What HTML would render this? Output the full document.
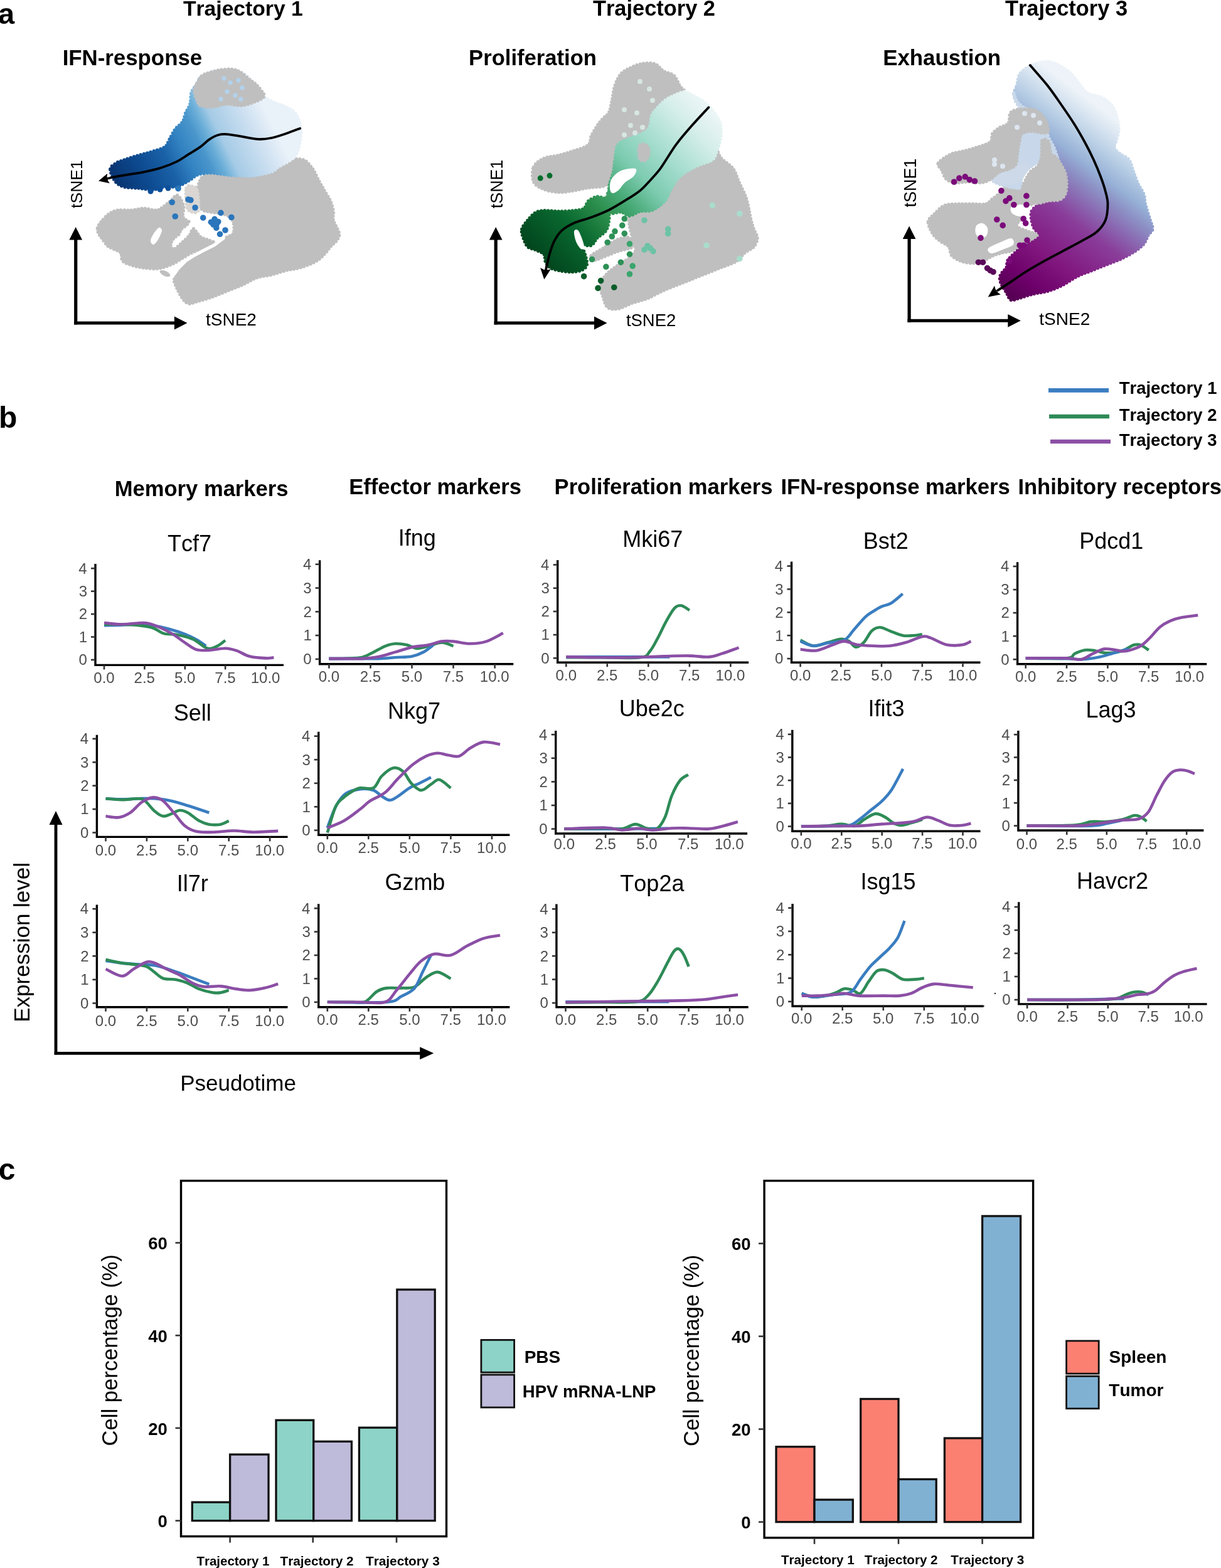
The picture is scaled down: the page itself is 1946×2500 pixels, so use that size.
<!DOCTYPE html>
<html><head><meta charset="utf-8"><title>Figure</title>
<style>
html,body{margin:0;padding:0;background:#fff;}
svg{display:block;font-family:"Liberation Sans",Arial,sans-serif;font-kerning:none;}
</style></head><body>
<svg width="1946" height="2500" viewBox="0 0 1946 2500">
<rect width="1946" height="2500" fill="#fff"/>
<text x="-3.08" y="38.10" font-size="47.00" font-weight="bold" fill="#000">a</text>
<text x="291.92" y="24.80" font-size="33.67" font-weight="bold" fill="#000">Trajectory 1</text>
<text x="944.91" y="24.80" font-size="34.41" font-weight="bold" fill="#000">Trajectory 2</text>
<text x="1601.91" y="24.80" font-size="34.44" font-weight="bold" fill="#000">Trajectory 3</text>
<text x="99.67" y="103.50" font-size="34.82" font-weight="bold" fill="#000">IFN-response</text>
<text x="747.08" y="104.10" font-size="34.61" font-weight="bold" fill="#000">Proliferation</text>
<text x="1407.17" y="104.10" font-size="34.88" font-weight="bold" fill="#000">Exhaustion</text>
<line x1="120.7" y1="517.6" x2="120.7" y2="381.4" stroke="#000" stroke-width="5.2"/>
<polygon points="110.35000000000001,382.4 131.05,382.4 120.7,361.9" fill="#000"/>
<line x1="118.10000000000001" y1="515" x2="278.9" y2="515" stroke="#000" stroke-width="5.1"/>
<polygon points="277.9,504.6 277.9,525.4 298.4,515" fill="#000"/>
<text x="0" y="0" transform="translate(131.00,331.90) rotate(-90)" font-size="26.50" font-weight="normal" fill="#000">tSNE1</text>
<text x="328.08" y="519.00" font-size="27.97" font-weight="normal" fill="#000">tSNE2</text>
<path d="M315.0,304.0 C315.3,299.0 316.3,294.0 318.0,290.0 C319.7,286.0 320.8,282.3 325.0,280.0 C329.2,277.7 337.7,276.7 343.0,276.0 C348.3,275.3 350.0,275.2 357.0,276.0 C364.0,276.8 376.3,280.2 385.0,281.0 C393.7,281.8 401.8,282.2 409.0,281.0 C416.2,279.8 422.2,276.7 428.0,274.0 C433.8,271.3 438.2,268.2 444.0,265.0 C449.8,261.8 456.3,256.7 463.0,255.0 C469.7,253.3 478.2,252.7 484.0,255.0 C489.8,257.3 494.0,263.5 498.0,269.0 C502.0,274.5 504.8,282.2 508.0,288.0 C511.2,293.8 513.9,298.6 517.0,304.0 C520.1,309.4 524.1,315.1 526.5,320.6 C528.9,326.1 530.4,331.9 531.2,337.0 C532.0,342.1 529.6,345.3 531.2,351.2 C532.8,357.1 539.8,366.9 540.6,372.4 C541.4,377.9 538.2,380.6 535.9,384.1 C533.5,387.6 529.6,390.0 526.5,393.5 C523.4,397.0 520.9,401.4 517.0,405.3 C513.1,409.2 509.3,413.5 503.0,417.0 C496.7,420.5 487.2,424.1 479.4,426.5 C471.5,428.9 463.7,429.2 455.9,431.2 C448.1,433.1 440.2,436.2 432.4,438.2 C424.5,440.2 416.6,440.2 408.8,443.0 C401.0,445.8 393.1,451.2 385.3,454.7 C377.5,458.2 369.7,461.0 361.8,464.1 C353.9,467.2 346.1,470.8 338.2,473.5 C330.3,476.2 321.0,478.9 314.7,480.6 C308.4,482.4 304.6,484.8 300.6,484.0 C296.7,483.2 294.1,480.1 291.0,476.0 C287.9,471.9 284.3,464.5 282.0,459.4 C279.7,454.3 277.3,449.4 277.0,445.3 C276.7,441.2 277.8,438.4 280.0,435.0 C282.2,431.6 286.7,428.3 290.0,425.0 C293.3,421.7 296.3,418.3 300.0,415.0 C303.7,411.7 307.8,407.8 312.0,405.0 C316.2,402.2 320.3,400.0 325.0,398.0 C329.7,396.0 335.5,395.2 340.0,393.0 C344.5,390.8 348.3,387.5 352.0,385.0 C355.7,382.5 358.7,380.2 362.0,378.0 C365.3,375.8 370.3,375.8 372.0,372.0 C373.7,368.2 373.2,359.5 372.0,355.0 C370.8,350.5 368.7,347.5 365.0,345.0 C361.3,342.5 355.0,341.2 350.0,340.0 C345.0,338.8 339.7,339.0 335.0,338.0 C330.3,337.0 325.2,337.0 322.0,334.0 C318.8,331.0 317.2,325.0 316.0,320.0 C314.8,315.0 314.7,309.0 315.0,304.0Z" fill="#bfbfbf" stroke="#bfbfbf" stroke-width="5.5" stroke-linecap="round" stroke-dasharray="0 5.5"/>
<path d="M155.6,363.4 C156.3,360.3 158.2,357.3 161.3,353.5 C164.4,349.7 169.5,343.9 174.0,340.8 C178.5,337.8 182.2,336.1 188.1,335.2 C194.0,334.3 202.5,335.7 209.3,335.2 C216.1,334.7 222.4,332.4 229.0,332.4 C235.6,332.4 243.9,335.4 248.8,335.2 C253.8,335.0 254.5,333.8 258.7,331.0 C262.9,328.2 270.4,321.5 274.2,318.2 C278.0,314.9 278.9,311.2 281.3,311.2 C283.7,311.2 286.5,314.9 288.4,318.2 C290.3,321.5 292.1,326.8 292.6,331.0 C293.1,335.2 291.0,340.6 291.2,343.6 C291.4,346.7 292.4,347.7 294.0,349.3 C295.6,350.9 300.5,351.9 301.0,353.5 C301.5,355.1 298.9,357.1 296.8,359.2 C294.7,361.3 290.3,363.8 288.4,366.2 C286.5,368.6 287.4,371.0 285.5,373.3 C283.6,375.6 279.2,377.2 277.0,380.0 C274.8,382.8 272.0,387.1 272.0,390.0 C272.0,392.9 273.8,398.0 277.0,397.3 C280.2,396.6 286.9,389.8 291.2,386.0 C295.4,382.2 299.7,378.2 302.5,374.7 C305.3,371.2 305.3,364.3 308.1,364.8 C310.9,365.3 315.2,374.4 319.4,377.5 C323.6,380.6 329.3,381.3 333.5,383.2 C337.7,385.1 344.8,386.9 344.8,388.8 C344.8,390.7 337.7,393.1 333.5,394.5 C329.3,395.9 324.1,395.9 319.4,397.3 C314.7,398.7 310.0,400.6 305.3,403.0 C300.6,405.4 295.9,408.6 291.2,411.4 C286.5,414.2 281.7,417.5 277.0,419.9 C272.3,422.2 267.7,424.1 263.0,425.5 C258.3,426.9 254.5,428.1 248.8,428.4 C243.1,428.6 235.6,427.9 229.0,427.0 C222.4,426.1 214.9,424.6 209.3,422.7 C203.7,420.8 198.0,419.0 195.2,415.7 C192.4,412.4 195.2,406.3 192.4,403.0 C189.6,399.7 181.7,397.8 178.2,395.9 C174.7,394.0 173.8,394.3 171.2,391.7 C168.6,389.1 165.1,383.7 162.7,380.4 C160.3,377.1 158.2,374.7 157.0,371.9 C155.8,369.1 154.9,366.5 155.6,363.4Z" fill="#bfbfbf" stroke="#bfbfbf" stroke-width="5.5" stroke-linecap="round" stroke-dasharray="0 5.5"/>
<path d="M253.0,363.0 C255.3,361.8 257.7,364.8 258.0,367.0 C258.3,369.2 256.3,373.0 255.0,376.0 C253.7,379.0 251.8,382.7 250.0,385.0 C248.2,387.3 245.7,390.2 244.0,390.0 C242.3,389.8 240.0,386.7 240.0,384.0 C240.0,381.3 241.8,377.5 244.0,374.0 C246.2,370.5 250.7,364.2 253.0,363.0Z" fill="#fff"/>
<path d="M297.0,300.0 C298.2,294.5 302.2,296.5 305.0,297.0 C307.8,297.5 312.2,296.7 314.0,303.0 C315.8,309.3 317.3,329.2 316.0,335.0 C314.7,340.8 309.0,338.8 306.0,338.0 C303.0,337.2 299.5,336.3 298.0,330.0 C296.5,323.7 295.8,305.5 297.0,300.0Z" fill="#d9d6d3" stroke="#d9d6d3" stroke-width="5.5" stroke-linecap="round" stroke-dasharray="0 5.5"/>
<ellipse cx="263" cy="436" rx="9" ry="4" transform="rotate(25 263 436)" fill="#bfbfbf"/>
<path d="M356,380 L341,391 L325,399 L310,407 L296,416 L284,428 L274,442" fill="none" stroke="#fff" stroke-width="5" stroke-linecap="round"/>
<defs><linearGradient id="g1" gradientUnits="userSpaceOnUse" x1="175" y1="290" x2="420" y2="170"><stop offset="0" stop-color="#08306b"/><stop offset="0.2" stop-color="#0d4a90"/><stop offset="0.36" stop-color="#1a62a8"/><stop offset="0.47" stop-color="#3383c2"/><stop offset="0.57" stop-color="#4a96cc"/><stop offset="0.63" stop-color="#6aaed8"/><stop offset="0.7" stop-color="#a5cbe6"/><stop offset="0.88" stop-color="#cde0f1"/><stop offset="1" stop-color="#e9f1f9"/></linearGradient></defs>
<path d="M175.9,269.4 C176.3,264.7 181.8,262.4 185.3,260.0 C188.8,257.6 192.7,256.9 197.0,255.3 C201.3,253.7 206.1,252.2 211.2,250.6 C216.3,249.0 222.1,247.5 227.6,245.9 C233.1,244.3 238.1,243.2 244.0,241.2 C249.9,239.2 258.7,237.2 263.0,234.1 C267.3,231.0 267.3,227.1 270.0,222.4 C272.7,217.7 275.9,210.6 279.4,205.9 C282.9,201.2 288.4,198.3 291.2,194.0 C293.9,189.7 293.9,184.7 295.9,180.0 C297.9,175.3 301.4,171.4 303.0,165.9 C304.6,160.4 303.4,152.5 305.3,147.0 C307.2,141.5 311.9,137.3 314.7,133.0 C317.4,128.7 315.9,124.7 321.8,121.2 C327.7,117.7 339.5,112.9 350.0,112.0 C360.5,111.1 375.2,111.7 385.0,116.0 C394.8,120.3 403.3,131.6 408.8,137.6 C414.3,143.6 414.3,147.9 418.2,151.8 C422.1,155.7 426.1,158.1 432.4,161.2 C438.7,164.3 449.6,167.5 455.9,170.6 C462.2,173.7 466.5,176.1 470.0,180.0 C473.5,183.9 475.4,188.5 477.0,194.0 C478.6,199.5 479.4,206.7 479.4,213.0 C479.4,219.3 478.2,226.3 477.0,231.8 C475.8,237.3 474.7,242.0 472.4,245.9 C470.1,249.8 467.7,252.0 463.0,255.3 C458.3,258.7 449.1,262.9 444.0,266.0 C438.9,269.1 439.1,271.7 432.4,274.0 C425.7,276.3 413.4,279.0 404.0,280.0 C394.6,281.0 384.1,280.3 375.9,280.0 C367.7,279.7 361.0,278.7 355.0,278.0 C349.0,277.3 344.4,276.3 340.0,276.0 C335.6,275.7 333.0,275.5 328.8,276.0 C324.6,276.5 319.4,276.8 314.7,278.8 C310.0,280.8 306.1,285.1 300.6,288.2 C295.1,291.3 288.1,296.0 281.8,297.6 C275.5,299.2 269.3,296.8 263.0,297.6 C256.7,298.4 251.1,302.0 244.0,302.4 C236.9,302.8 228.4,300.8 220.6,300.0 C212.8,299.2 203.3,299.6 197.0,297.6 C190.7,295.6 186.5,292.9 183.0,288.2 C179.5,283.5 175.5,274.1 175.9,269.4Z" fill="url(#g1)" stroke="url(#g1)" stroke-width="5.5" stroke-linecap="round" stroke-dasharray="0 5.5"/>
<path d="M321.8,121.2 C324.5,118.2 324.1,119.2 328.8,117.6 C333.5,116.0 342.9,113.0 350.0,111.8 C357.1,110.6 365.3,109.8 371.2,110.6 C377.1,111.4 380.6,113.6 385.3,116.5 C390.0,119.4 395.5,125.1 399.4,128.2 C403.3,131.3 405.7,132.2 408.8,135.3 C411.9,138.4 416.2,143.9 418.2,147.0 C420.2,150.1 422.2,151.7 420.6,154.1 C419.0,156.5 414.7,158.8 408.8,161.2 C402.9,163.5 393.1,167.4 385.3,168.2 C377.5,169.0 369.7,165.5 361.8,165.9 C353.9,166.3 345.3,170.2 338.2,170.6 C331.1,171.0 323.3,169.8 319.4,168.2 C315.5,166.6 316.3,164.7 314.7,161.2 C313.1,157.7 310.4,151.3 310.0,147.0 C309.6,142.7 310.4,139.6 312.4,135.3 C314.4,131.0 319.1,124.2 321.8,121.2Z" fill="#bfbfbf" stroke="#bfbfbf" stroke-width="5.5" stroke-linecap="round" stroke-dasharray="0 5.5"/>
<circle cx="357.0" cy="125.0" r="3.8" fill="#b3d1ea"/>
<circle cx="367.0" cy="132.0" r="3.8" fill="#b3d1ea"/>
<circle cx="380.0" cy="128.0" r="3.8" fill="#b3d1ea"/>
<circle cx="362.0" cy="146.0" r="3.8" fill="#b3d1ea"/>
<circle cx="375.0" cy="152.0" r="3.8" fill="#b3d1ea"/>
<circle cx="386.0" cy="140.0" r="3.8" fill="#b3d1ea"/>
<circle cx="352.0" cy="158.0" r="3.8" fill="#b3d1ea"/>
<circle cx="384.0" cy="158.0" r="3.8" fill="#b3d1ea"/>
<circle cx="284.0" cy="300.6" r="4.8" fill="#2a75bb"/>
<circle cx="274.2" cy="322.5" r="4.8" fill="#2a75bb"/>
<circle cx="303.9" cy="319.0" r="4.8" fill="#2a75bb"/>
<circle cx="311.0" cy="331.0" r="4.8" fill="#2a75bb"/>
<circle cx="279.2" cy="345.0" r="4.8" fill="#2a75bb"/>
<circle cx="323.7" cy="347.2" r="4.8" fill="#2a75bb"/>
<circle cx="351.9" cy="339.4" r="4.8" fill="#2a75bb"/>
<circle cx="368.8" cy="346.5" r="4.8" fill="#2a75bb"/>
<circle cx="336.4" cy="354.2" r="4.8" fill="#2a75bb"/>
<circle cx="342.0" cy="349.3" r="4.8" fill="#2a75bb"/>
<circle cx="347.7" cy="353.5" r="4.8" fill="#2a75bb"/>
<circle cx="344.8" cy="363.4" r="4.8" fill="#2a75bb"/>
<circle cx="359.0" cy="367.0" r="4.8" fill="#2a75bb"/>
<circle cx="350.5" cy="373.3" r="4.8" fill="#2a75bb"/>
<circle cx="300.0" cy="318.0" r="4.8" fill="#2a75bb"/>
<circle cx="345.0" cy="358.0" r="4.8" fill="#2a75bb"/>
<circle cx="340.0" cy="358.0" r="4.8" fill="#2a75bb"/>
<circle cx="255.0" cy="302.0" r="4.5" fill="#0d4f9a"/>
<circle cx="240.0" cy="305.0" r="4.5" fill="#0d4f9a"/>
<circle cx="268.0" cy="300.0" r="4.5" fill="#0d4f9a"/>
<path d="M478.2,204.7 C474.5,206.1 463.5,210.4 455.9,213.0 C448.3,215.6 439.8,218.5 432.4,220.0 C424.9,221.5 419.0,222.3 411.2,221.9 C403.4,221.5 393.5,218.9 385.3,217.6 C377.1,216.3 368.1,214.5 361.8,214.1 C355.5,213.7 352.3,213.9 347.6,215.3 C342.9,216.7 338.2,219.3 333.5,222.4 C328.8,225.5 324.9,230.2 319.4,234.1 C313.9,238.0 306.9,242.0 300.6,245.9 C294.3,249.8 288.9,254.1 281.8,257.6 C274.7,261.1 266.8,264.2 258.2,267.0 C249.6,269.8 239.4,272.1 230.0,274.1 C220.6,276.1 210.4,277.3 201.8,278.8 C193.2,280.3 183.8,281.9 178.2,283.0 C172.6,284.1 169.7,285.1 168.0,285.5" fill="none" stroke="#000" stroke-width="3.8" stroke-linecap="round"/>
<path d="M157.0,288.5 L171.1,276.7 Q169.0,285.5 174.9,292.3 Z" fill="#000"/>
<line x1="790.2" y1="517.6" x2="790.2" y2="381.4" stroke="#000" stroke-width="5.2"/>
<polygon points="779.85,382.4 800.5500000000001,382.4 790.2,361.9" fill="#000"/>
<line x1="787.6" y1="515" x2="948.0" y2="515" stroke="#000" stroke-width="5.1"/>
<polygon points="947.0,504.6 947.0,525.4 967.5,515" fill="#000"/>
<text x="0" y="0" transform="translate(800.60,332.21) rotate(-90)" font-size="26.86" font-weight="normal" fill="#000">tSNE1</text>
<text x="997.88" y="519.60" font-size="27.47" font-weight="normal" fill="#000">tSNE2</text>
<path d="M1003.5,344.1 C1006.2,340.2 1013.9,338.5 1020.0,337.0 C1026.1,335.5 1033.3,337.8 1040.0,335.0 C1046.7,332.2 1055.0,325.8 1060.0,320.0 C1065.0,314.2 1065.8,306.7 1070.0,300.0 C1074.2,293.3 1078.3,285.8 1085.0,280.0 C1091.7,274.2 1101.7,269.2 1110.0,265.0 C1118.3,260.8 1129.6,259.1 1135.0,255.0 C1140.4,250.9 1140.0,241.0 1142.4,240.6 C1144.8,240.2 1145.1,247.7 1149.4,252.4 C1153.7,257.1 1163.5,262.5 1168.2,268.8 C1172.9,275.1 1174.5,283.1 1177.6,290.0 C1180.7,296.9 1184.6,304.1 1187.0,310.0 C1189.4,315.9 1190.2,318.8 1191.8,325.3 C1193.4,331.8 1194.9,342.1 1196.5,348.8 C1198.1,355.5 1199.5,360.2 1201.2,365.3 C1203.0,370.4 1207.0,374.7 1207.0,379.4 C1207.0,384.1 1204.5,389.6 1201.2,393.5 C1197.9,397.4 1191.7,399.1 1187.0,403.0 C1182.3,406.9 1179.3,413.1 1173.0,417.0 C1166.7,420.9 1157.2,423.4 1149.4,426.5 C1141.6,429.6 1133.7,432.8 1125.9,435.9 C1118.1,439.0 1110.2,442.2 1102.4,445.3 C1094.6,448.4 1086.7,451.6 1078.8,454.7 C1070.9,457.8 1063.1,460.6 1055.3,464.1 C1047.5,467.6 1039.6,472.8 1031.8,475.9 C1023.9,479.0 1016.1,480.2 1008.2,483.0 C1000.4,485.8 991.4,491.2 984.7,492.4 C978.0,493.6 972.1,493.1 968.2,490.0 C964.3,486.9 963.2,479.4 961.2,473.5 C959.2,467.6 955.7,460.6 956.5,454.7 C957.3,448.8 962.0,442.9 965.9,438.2 C969.8,433.5 975.3,430.0 980.0,426.5 C984.7,423.0 989.4,420.1 994.1,417.0 C998.8,413.9 1005.1,411.1 1008.2,407.6 C1011.4,404.1 1013.0,400.6 1013.0,395.9 C1013.0,391.2 1009.8,385.3 1008.2,379.4 C1006.6,373.5 1004.3,366.5 1003.5,360.6 C1002.7,354.7 1000.8,348.0 1003.5,344.1Z" fill="#bfbfbf" stroke="#bfbfbf" stroke-width="5.5" stroke-linecap="round" stroke-dasharray="0 5.5"/>
<path d="M942.4,407.6 C944.8,404.5 954.2,400.2 961.2,395.9 C968.2,391.6 977.7,384.6 984.7,381.8 C991.8,379.1 999.6,377.4 1003.5,379.4 C1007.4,381.3 1011.3,390.0 1008.2,393.5 C1005.1,397.0 992.5,397.9 984.7,400.6 C976.9,403.4 967.5,407.6 961.2,410.0 C954.9,412.4 950.1,415.1 947.0,414.7 C943.9,414.3 940.0,410.7 942.4,407.6Z" fill="#bfbfbf" stroke="#bfbfbf" stroke-width="5.5" stroke-linecap="round" stroke-dasharray="0 5.5"/>
<path d="M850.6,266.5 C853.3,260.2 860.3,255.6 867.0,252.4 C873.7,249.2 882.8,249.6 890.6,247.6 C898.4,245.6 906.2,243.3 914.0,240.6 C921.8,237.9 932.9,235.1 937.6,231.2 C942.3,227.3 940.0,222.1 942.4,217.0 C944.8,211.9 948.7,205.3 951.8,200.6 C954.9,195.9 958.1,192.3 961.2,188.8 C964.3,185.3 968.2,184.1 970.6,179.4 C973.0,174.7 973.7,167.7 975.3,160.6 C976.9,153.5 977.6,144.1 980.0,137.0 C982.4,129.9 985.5,122.9 989.4,118.2 C993.3,113.5 998.0,111.5 1003.5,108.8 C1009.0,106.1 1015.7,103.0 1022.4,101.8 C1029.1,100.6 1037.6,99.8 1043.5,101.8 C1049.4,103.8 1052.5,110.4 1057.6,113.5 C1062.7,116.6 1069.7,116.7 1074.0,120.6 C1078.3,124.5 1080.7,132.7 1083.5,137.0 C1086.3,141.3 1092.0,144.0 1090.6,146.5 C1089.2,149.0 1080.1,149.8 1075.0,152.0 C1069.9,154.2 1065.0,156.2 1060.0,160.0 C1055.0,163.8 1048.5,171.0 1045.0,175.0 C1041.5,179.0 1041.0,178.6 1038.8,184.0 C1036.6,189.4 1038.3,201.3 1031.8,207.6 C1025.3,213.9 1007.9,218.1 1000.0,222.0 C992.1,225.9 988.0,225.8 984.7,231.2 C981.4,236.6 981.2,247.6 980.0,254.7 C978.8,261.8 979.2,267.6 977.6,273.5 C976.0,279.4 973.3,286.1 970.6,290.0 C967.9,293.9 966.7,295.4 961.2,297.0 C955.7,298.6 945.5,298.2 937.6,299.4 C929.7,300.6 921.8,302.8 914.0,304.0 C906.2,305.2 898.4,306.9 890.6,306.5 C882.8,306.1 873.7,304.6 867.0,301.8 C860.3,299.1 853.3,295.9 850.6,290.0 C847.9,284.1 847.9,272.8 850.6,266.5Z" fill="#bfbfbf" stroke="#bfbfbf" stroke-width="5.5" stroke-linecap="round" stroke-dasharray="0 5.5"/>
<defs><linearGradient id="g2" gradientUnits="userSpaceOnUse" x1="862" y1="430" x2="1135" y2="165"><stop offset="0" stop-color="#00401b"/><stop offset="0.23" stop-color="#0a6a30"/><stop offset="0.35" stop-color="#2a8c4a"/><stop offset="0.45" stop-color="#45a873"/><stop offset="0.57" stop-color="#7ccbb0"/><stop offset="0.72" stop-color="#a8ded0"/><stop offset="0.87" stop-color="#d5eee9"/><stop offset="1" stop-color="#f0f7f9"/></linearGradient></defs>
<path d="M1090.6,146.5 C1095.2,146.4 1096.5,148.1 1102.4,151.2 C1108.3,154.3 1118.9,159.0 1125.9,165.3 C1133.0,171.6 1140.8,181.8 1144.7,188.8 C1148.6,195.9 1149.0,201.3 1149.4,207.6 C1149.8,213.9 1148.2,221.0 1147.0,226.5 C1145.8,232.0 1144.4,235.8 1142.4,240.6 C1140.4,245.3 1140.4,250.9 1135.0,255.0 C1129.6,259.1 1118.3,260.8 1110.0,265.0 C1101.7,269.2 1091.7,274.2 1085.0,280.0 C1078.3,285.8 1074.2,293.3 1070.0,300.0 C1065.8,306.7 1065.0,314.2 1060.0,320.0 C1055.0,325.8 1046.7,332.2 1040.0,335.0 C1033.3,337.8 1026.1,335.5 1020.0,337.0 C1013.9,338.5 1008.5,343.8 1003.5,344.0 C998.5,344.2 995.2,339.0 990.0,338.0 C984.8,337.0 975.2,343.6 972.0,338.0 C968.8,332.4 970.6,311.8 970.6,304.1 C970.6,296.4 970.8,297.1 972.0,292.0 C973.2,286.9 976.3,279.7 977.6,273.5 C978.9,267.3 978.8,261.8 980.0,254.7 C981.2,247.6 981.4,236.6 984.7,231.2 C988.0,225.8 992.1,225.9 1000.0,222.0 C1007.9,218.1 1025.3,213.9 1031.8,207.6 C1038.3,201.3 1036.6,189.4 1038.8,184.0 C1041.0,178.6 1041.5,179.0 1045.0,175.0 C1048.5,171.0 1055.0,163.8 1060.0,160.0 C1065.0,156.2 1069.9,154.2 1075.0,152.0 C1080.1,149.8 1086.0,146.6 1090.6,146.5Z" fill="url(#g2)" stroke="url(#g2)" stroke-width="5.5" stroke-linecap="round" stroke-dasharray="0 5.5"/>
<path d="M1020.0,231.0 C1022.2,227.8 1029.7,230.5 1032.0,233.0 C1034.3,235.5 1034.7,242.2 1034.0,246.0 C1033.3,249.8 1030.5,255.0 1028.0,256.0 C1025.5,257.0 1020.3,256.2 1019.0,252.0 C1017.7,247.8 1017.8,234.2 1020.0,231.0Z" fill="#bfbfbf" stroke="#bfbfbf" stroke-width="5.5" stroke-linecap="round" stroke-dasharray="0 5.5"/>
<path d="M831.8,365.3 C833.0,360.6 837.7,355.5 841.2,351.2 C844.7,346.9 848.7,341.9 853.0,339.4 C857.3,336.8 860.7,336.3 867.0,335.9 C873.3,335.5 882.8,337.0 890.6,337.0 C898.4,337.0 907.3,336.7 914.0,335.9 C920.7,335.1 926.7,334.9 930.6,332.4 C934.5,329.8 934.1,323.8 937.6,320.6 C941.1,317.5 947.1,314.3 951.8,313.5 C956.5,312.7 962.8,317.5 965.9,315.9 C969.0,314.3 967.5,307.6 970.6,304.1 C973.7,300.6 980.0,297.1 984.7,294.7 C989.4,292.3 994.9,289.1 998.8,290.0 C1002.7,290.9 1007.8,295.8 1008.0,300.0 C1008.2,304.2 1003.8,310.8 1000.0,315.0 C996.2,319.2 989.7,321.3 985.0,325.0 C980.3,328.7 974.4,332.6 972.0,337.0 C969.6,341.4 971.6,346.1 970.6,351.2 C969.6,356.3 969.0,362.9 965.9,367.6 C962.8,372.3 955.7,375.5 951.8,379.4 C947.9,383.3 946.3,389.6 942.4,391.2 C938.5,392.8 931.7,390.8 928.2,388.8 C924.7,386.8 922.9,382.5 921.2,379.4 C919.5,376.3 918.9,370.2 918.0,370.0 C917.1,369.8 914.8,373.8 916.0,378.0 C917.2,382.2 922.6,391.2 925.0,395.0 C927.4,398.8 928.9,396.1 930.6,400.6 C932.3,405.1 936.1,416.7 935.3,421.8 C934.5,426.9 930.2,429.2 925.9,431.2 C921.6,433.1 915.3,433.5 909.4,433.5 C903.5,433.5 896.1,432.4 890.6,431.2 C885.1,430.0 880.0,428.9 876.5,426.5 C873.0,424.1 871.0,420.5 869.4,417.0 C867.8,413.5 869.7,408.4 867.0,405.3 C864.3,402.2 857.3,400.2 853.0,398.2 C848.7,396.2 844.4,396.6 841.2,393.5 C838.1,390.4 835.7,384.1 834.1,379.4 C832.5,374.7 830.6,370.0 831.8,365.3Z" fill="url(#g2)" stroke="url(#g2)" stroke-width="5.5" stroke-linecap="round" stroke-dasharray="0 5.5"/>
<path d="M915.0,369.0 C915.5,366.0 919.0,365.3 921.0,367.0 C923.0,368.7 925.3,374.5 927.0,379.0 C928.7,383.5 931.2,391.0 931.0,394.0 C930.8,397.0 928.2,398.5 926.0,397.0 C923.8,395.5 919.8,389.7 918.0,385.0 C916.2,380.3 914.5,372.0 915.0,369.0Z" fill="#fff"/>
<path d="M972.0,300.0 C971.8,296.2 972.0,289.7 975.0,285.0 C978.0,280.3 983.7,274.7 990.0,272.0 C996.3,269.3 1009.7,267.5 1013.0,269.0 C1016.3,270.5 1012.8,277.3 1010.0,281.0 C1007.2,284.7 1000.0,287.3 996.0,291.0 C992.0,294.7 989.3,300.2 986.0,303.0 C982.7,305.8 978.3,308.5 976.0,308.0 C973.7,307.5 972.2,303.8 972.0,300.0Z" fill="#fff"/>
<circle cx="861.2" cy="284.1" r="4.5" fill="#006d2c"/>
<circle cx="876.0" cy="280.1" r="4.5" fill="#006d2c"/>
<circle cx="995.3" cy="348.8" r="4.8" fill="#2e9157"/>
<circle cx="991.8" cy="359.4" r="4.8" fill="#2e9157"/>
<circle cx="980.0" cy="368.8" r="4.8" fill="#2e9157"/>
<circle cx="995.3" cy="372.4" r="4.8" fill="#2e9157"/>
<circle cx="975.3" cy="377.0" r="4.8" fill="#2e9157"/>
<circle cx="968.2" cy="386.5" r="4.8" fill="#2e9157"/>
<circle cx="943.5" cy="413.5" r="4.8" fill="#2e9157"/>
<circle cx="965.9" cy="425.3" r="4.8" fill="#2e9157"/>
<circle cx="989.4" cy="418.2" r="4.8" fill="#2e9157"/>
<circle cx="1003.5" cy="405.3" r="4.8" fill="#2e9157"/>
<circle cx="930.6" cy="440.6" r="4.8" fill="#0b5d2a"/>
<circle cx="957.6" cy="447.6" r="4.8" fill="#0b5d2a"/>
<circle cx="953.0" cy="459.4" r="4.8" fill="#0b5d2a"/>
<circle cx="978.8" cy="458.2" r="4.8" fill="#0b5d2a"/>
<circle cx="1003.5" cy="388.8" r="4.8" fill="#3aa56c"/>
<circle cx="1008.2" cy="424.1" r="4.8" fill="#3aa56c"/>
<circle cx="1003.5" cy="437.0" r="4.8" fill="#3aa56c"/>
<circle cx="1027.0" cy="351.2" r="4.8" fill="#6cc3a5"/>
<circle cx="1064.7" cy="365.3" r="4.8" fill="#6cc3a5"/>
<circle cx="1064.7" cy="372.4" r="4.8" fill="#6cc3a5"/>
<circle cx="1027.0" cy="398.2" r="4.8" fill="#6cc3a5"/>
<circle cx="1036.5" cy="395.9" r="4.8" fill="#6cc3a5"/>
<circle cx="1041.0" cy="400.6" r="4.8" fill="#6cc3a5"/>
<circle cx="1032.0" cy="392.0" r="4.8" fill="#6cc3a5"/>
<circle cx="1135.3" cy="327.6" r="4.8" fill="#a9dccc"/>
<circle cx="1125.9" cy="391.2" r="4.8" fill="#a9dccc"/>
<circle cx="1178.8" cy="412.4" r="4.8" fill="#a9dccc"/>
<circle cx="1178.8" cy="340.6" r="4.8" fill="#a9dccc"/>
<circle cx="1020.0" cy="130.0" r="4" fill="#d7e6e2"/>
<circle cx="1035.0" cy="142.0" r="4" fill="#d7e6e2"/>
<circle cx="1040.0" cy="160.0" r="4" fill="#d7e6e2"/>
<circle cx="995.0" cy="175.0" r="4" fill="#d7e6e2"/>
<circle cx="1015.0" cy="180.0" r="4" fill="#d7e6e2"/>
<circle cx="1005.0" cy="200.0" r="4" fill="#d7e6e2"/>
<circle cx="1024.0" cy="203.0" r="4" fill="#d7e6e2"/>
<circle cx="1012.0" cy="212.0" r="4" fill="#d7e6e2"/>
<circle cx="995.0" cy="215.0" r="4" fill="#d7e6e2"/>
<path d="M1129.4,171.2 C1124.9,176.1 1110.8,191.0 1102.4,200.6 C1094.0,210.2 1085.1,220.6 1078.8,228.8 C1072.5,237.0 1069.4,242.9 1064.7,250.0 C1060.0,257.1 1055.7,264.5 1050.6,271.2 C1045.5,277.9 1039.1,284.5 1034.0,290.0 C1028.9,295.5 1025.9,299.3 1020.0,304.0 C1014.1,308.7 1007.0,313.1 998.8,318.2 C990.6,323.3 980.0,330.0 970.6,334.7 C961.2,339.4 951.8,343.0 942.4,346.5 C933.0,350.0 921.9,352.4 914.0,355.9 C906.1,359.4 900.4,362.9 895.3,367.6 C890.2,372.3 886.6,378.2 883.5,384.1 C880.4,390.0 878.5,396.7 876.5,403.0 C874.5,409.3 872.9,417.3 871.8,421.8 C870.7,426.3 870.3,428.6 870.0,430.0" fill="none" stroke="#000" stroke-width="3.8" stroke-linecap="round"/>
<path d="M867.3,445.5 L861.1,426.9 Q869.0,432.4 877.9,429.1 Z" fill="#000"/>
<line x1="1449.1" y1="513.9" x2="1449.1" y2="380.0" stroke="#000" stroke-width="5.2"/>
<polygon points="1438.75,381.0 1459.4499999999998,381.0 1449.1,360.5" fill="#000"/>
<line x1="1446.5" y1="511.3" x2="1607.3" y2="511.3" stroke="#000" stroke-width="5.1"/>
<polygon points="1606.3,500.90000000000003 1606.3,521.7 1626.8,511.3" fill="#000"/>
<text x="0" y="0" transform="translate(1459.70,330.41) rotate(-90)" font-size="26.89" font-weight="normal" fill="#000">tSNE1</text>
<text x="1656.17" y="518.20" font-size="28.11" font-weight="normal" fill="#000">tSNE2</text>
<defs><linearGradient id="g3" gradientUnits="userSpaceOnUse" x1="1590" y1="475" x2="1794" y2="203"><stop offset="0" stop-color="#4d004b"/><stop offset="0.15" stop-color="#6e016b"/><stop offset="0.3" stop-color="#81177f"/><stop offset="0.5" stop-color="#8a3d9a"/><stop offset="0.6" stop-color="#8a6ab2"/><stop offset="0.68" stop-color="#8c8fc4"/><stop offset="0.75" stop-color="#96b0d6"/><stop offset="0.85" stop-color="#b9cfe5"/><stop offset="0.93" stop-color="#d6e3f0"/><stop offset="1" stop-color="#edf3f8"/></linearGradient></defs>
<path d="M1479.4,353.5 C1479.8,348.4 1484.5,346.1 1488.8,341.8 C1493.1,337.5 1498.6,330.4 1505.3,327.6 C1512.0,324.9 1520.9,325.7 1528.8,325.3 C1536.7,324.9 1545.3,325.3 1552.4,325.3 C1559.5,325.3 1566.5,326.5 1571.2,325.3 C1575.9,324.1 1577.1,320.9 1580.6,318.2 C1584.1,315.4 1588.9,311.9 1592.4,308.8 C1595.9,305.7 1597.9,302.5 1601.8,299.4 C1605.7,296.3 1610.4,291.2 1615.9,290.0 C1621.4,288.8 1629.2,290.0 1634.7,292.4 C1640.2,294.8 1646.5,299.8 1648.8,304.1 C1651.1,308.4 1650.0,313.9 1648.8,318.2 C1647.6,322.5 1644.1,326.5 1641.8,330.0 C1639.5,333.5 1637.5,335.9 1634.7,339.4 C1632.0,342.9 1627.7,347.7 1625.3,351.2 C1622.9,354.7 1619.0,357.9 1620.6,360.6 C1622.2,363.3 1630.0,365.6 1634.7,367.6 C1639.4,369.6 1644.9,370.4 1648.8,372.4 C1652.7,374.4 1658.2,376.7 1658.2,379.4 C1658.2,382.1 1652.7,386.4 1648.8,388.8 C1644.9,391.2 1639.4,392.3 1634.7,393.5 C1630.0,394.7 1624.5,394.7 1620.6,395.9 C1616.7,397.1 1615.1,399.4 1611.2,400.6 C1607.3,401.8 1601.7,401.8 1597.0,403.0 C1592.3,404.2 1587.7,405.7 1583.0,407.6 C1578.3,409.6 1573.9,412.7 1568.8,414.7 C1563.7,416.7 1558.3,419.0 1552.4,419.4 C1546.5,419.8 1539.4,419.0 1533.5,417.0 C1527.6,415.0 1520.5,411.5 1517.0,407.6 C1513.5,403.7 1515.5,397.4 1512.4,393.5 C1509.3,389.6 1502.5,387.6 1498.2,384.1 C1493.9,380.6 1489.6,377.5 1486.5,372.4 C1483.4,367.3 1479.0,358.6 1479.4,353.5Z" fill="#bfbfbf" stroke="#bfbfbf" stroke-width="5.5" stroke-linecap="round" stroke-dasharray="0 5.5"/>
<path d="M1556.0,360.0 C1557.8,357.3 1563.0,355.3 1566.0,356.0 C1569.0,356.7 1573.0,360.7 1574.0,364.0 C1575.0,367.3 1574.0,373.3 1572.0,376.0 C1570.0,378.7 1564.8,380.7 1562.0,380.0 C1559.2,379.3 1556.0,375.3 1555.0,372.0 C1554.0,368.7 1554.2,362.7 1556.0,360.0Z" fill="#fff"/>
<path d="M1612.0,330.0 C1614.8,327.7 1624.5,326.0 1630.0,326.0 C1635.5,326.0 1643.3,327.3 1645.0,330.0 C1646.7,332.7 1643.3,339.5 1640.0,342.0 C1636.7,344.5 1629.5,345.3 1625.0,345.0 C1620.5,344.7 1615.2,342.5 1613.0,340.0 C1610.8,337.5 1609.2,332.3 1612.0,330.0Z" fill="#fff"/>
<path d="M1575.0,396.0 C1577.5,393.0 1588.8,388.7 1595.0,386.0 C1601.2,383.3 1608.7,379.3 1612.0,380.0 C1615.3,380.7 1617.3,387.0 1615.0,390.0 C1612.7,393.0 1603.8,395.7 1598.0,398.0 C1592.2,400.3 1583.8,404.3 1580.0,404.0 C1576.2,403.7 1572.5,399.0 1575.0,396.0Z" fill="#fff"/>
<path d="M1620.6,137.0 C1622.2,131.9 1622.2,123.3 1625.3,118.2 C1628.4,113.1 1633.9,109.6 1639.4,106.5 C1644.9,103.4 1651.9,100.6 1658.2,99.4 C1664.5,98.2 1670.7,97.8 1677.0,99.4 C1683.3,101.0 1690.8,105.7 1695.9,108.8 C1701.0,111.9 1703.7,114.3 1707.6,118.2 C1711.5,122.1 1715.1,127.3 1719.4,132.4 C1723.7,137.5 1727.2,144.9 1733.5,148.8 C1739.8,152.7 1750.3,152.4 1757.0,155.9 C1763.7,159.4 1769.6,164.5 1773.5,170.0 C1777.4,175.5 1779.0,182.5 1780.6,188.8 C1782.2,195.1 1783.4,201.3 1783.0,207.6 C1782.6,213.9 1779.4,221.8 1778.2,226.5 C1777.0,231.2 1774.7,232.8 1775.9,235.9 C1777.1,239.0 1781.4,242.2 1785.3,245.3 C1789.2,248.4 1795.9,250.0 1799.4,254.7 C1802.9,259.4 1804.2,267.2 1806.5,273.5 C1808.8,279.8 1810.8,286.3 1813.5,292.4 C1816.2,298.5 1821.0,304.5 1823.0,310.0 C1825.0,315.5 1823.7,318.8 1825.3,325.3 C1826.9,331.8 1830.5,342.1 1832.4,348.8 C1834.4,355.5 1837.4,361.0 1837.0,365.3 C1836.6,369.6 1832.3,370.8 1830.0,374.7 C1827.7,378.6 1826.5,384.5 1823.0,388.8 C1819.5,393.1 1814.7,396.7 1808.8,400.6 C1802.9,404.5 1795.1,408.9 1787.6,412.4 C1780.1,415.9 1771.8,418.7 1764.0,421.8 C1756.2,424.9 1748.4,428.1 1740.6,431.2 C1732.8,434.3 1724.8,436.7 1717.0,440.6 C1709.2,444.5 1701.3,450.8 1693.5,454.7 C1685.7,458.6 1677.8,461.8 1670.0,464.1 C1662.2,466.5 1654.3,466.8 1646.5,468.8 C1638.7,470.8 1628.9,474.3 1623.0,475.9 C1617.1,477.5 1614.4,479.8 1611.2,478.2 C1608.0,476.6 1606.8,471.2 1604.0,466.5 C1601.2,461.8 1596.2,454.7 1594.7,450.0 C1593.2,445.3 1593.2,442.1 1594.7,438.2 C1596.2,434.3 1602.0,430.4 1604.0,426.5 C1606.0,422.6 1603.7,419.0 1606.5,414.7 C1609.3,410.4 1615.9,404.5 1620.6,400.6 C1625.3,396.7 1630.0,393.9 1634.7,391.2 C1639.4,388.4 1644.9,386.9 1648.8,384.1 C1652.7,381.4 1658.2,377.8 1658.2,374.7 C1658.2,371.6 1651.2,369.2 1648.8,365.3 C1646.4,361.4 1644.9,355.9 1644.1,351.2 C1643.3,346.5 1642.5,340.9 1644.1,337.0 C1645.7,333.1 1649.2,330.7 1653.5,327.6 C1657.8,324.5 1665.3,322.5 1670.0,318.2 C1674.7,313.9 1678.5,308.2 1681.8,301.8 C1685.1,295.4 1690.0,290.2 1690.0,280.0 C1690.0,269.8 1684.7,250.3 1681.8,240.6 C1678.9,230.9 1674.8,227.3 1672.4,221.8 C1670.0,216.3 1668.8,212.7 1667.6,207.6 C1666.4,202.5 1668.4,195.9 1665.3,191.2 C1662.2,186.5 1654.7,182.9 1648.8,179.4 C1642.9,175.9 1634.7,173.1 1630.0,170.0 C1625.3,166.9 1622.9,164.1 1620.6,160.6 C1618.2,157.1 1615.9,152.7 1615.9,148.8 C1615.9,144.9 1619.0,142.1 1620.6,137.0Z" fill="url(#g3)" stroke="url(#g3)" stroke-width="5.5" stroke-linecap="round" stroke-dasharray="0 5.5"/>
<path d="M1615.9,148.8 C1616.3,148.9 1618.2,157.1 1620.6,160.6 C1622.9,164.1 1625.3,166.9 1630.0,170.0 C1634.7,173.1 1642.9,175.9 1648.8,179.4 C1654.7,182.9 1662.2,186.5 1665.3,191.2 C1668.4,195.9 1666.4,202.5 1667.6,207.6 C1668.8,212.7 1670.0,216.3 1672.4,221.8 C1674.8,227.3 1678.5,230.9 1681.8,240.6 C1685.1,250.3 1691.8,270.1 1692.0,280.0 C1692.2,289.9 1688.3,296.7 1683.0,300.0 C1677.7,303.3 1667.2,299.7 1660.0,300.0 C1652.8,300.3 1646.7,302.0 1640.0,302.0 C1633.3,302.0 1626.7,301.0 1620.0,300.0 C1613.3,299.0 1605.8,298.0 1600.0,296.0 C1594.2,294.0 1585.0,292.3 1585.0,288.0 C1585.0,283.7 1594.5,276.3 1600.0,270.0 C1605.5,263.7 1614.3,259.2 1618.0,250.0 C1621.7,240.8 1620.0,225.0 1622.0,215.0 C1624.0,205.0 1629.5,197.2 1630.0,190.0 C1630.5,182.8 1627.0,177.0 1625.0,172.0 C1623.0,167.0 1619.5,163.9 1618.0,160.0 C1616.5,156.1 1615.5,148.7 1615.9,148.8Z" fill="#c8d8ea" stroke="#c8d8ea" stroke-width="5.5" stroke-linecap="round" stroke-dasharray="0 5.5"/>
<path d="M1579.0,285.0 C1578.7,281.5 1587.8,274.8 1593.0,272.0 C1598.2,269.2 1604.2,269.5 1610.0,268.0 C1615.8,266.5 1623.0,263.0 1628.0,263.0 C1633.0,263.0 1640.0,264.3 1640.0,268.0 C1640.0,271.7 1632.7,281.0 1628.0,285.0 C1623.3,289.0 1617.5,290.7 1612.0,292.0 C1606.5,293.3 1600.5,294.2 1595.0,293.0 C1589.5,291.8 1579.3,288.5 1579.0,285.0Z" fill="#cdd9e8" stroke="#cdd9e8" stroke-width="5.5" stroke-linecap="round" stroke-dasharray="0 5.5"/>
<path d="M1630.0,287.0 C1631.2,282.8 1635.8,275.2 1640.0,271.0 C1644.2,266.8 1653.0,261.2 1655.0,262.0 C1657.0,262.8 1654.2,271.2 1652.0,276.0 C1649.8,280.8 1645.2,287.7 1642.0,291.0 C1638.8,294.3 1635.0,296.7 1633.0,296.0 C1631.0,295.3 1628.8,291.2 1630.0,287.0Z" fill="#fff"/>
<path d="M1495.5,260.1 C1497.8,255.9 1509.2,249.1 1515.3,246.0 C1521.4,242.9 1525.2,243.7 1532.2,241.8 C1539.2,239.9 1549.8,237.3 1557.6,234.7 C1565.4,232.1 1574.8,229.7 1578.8,226.2 C1582.8,222.7 1579.3,217.3 1581.7,213.5 C1584.1,209.7 1588.8,206.4 1593.0,203.6 C1597.2,200.8 1604.2,200.4 1607.0,196.6 C1609.8,192.8 1608.1,184.5 1610.0,181.0 C1611.9,177.5 1614.2,176.6 1618.4,175.4 C1622.6,174.2 1630.1,174.0 1635.3,174.0 C1640.5,174.0 1645.2,173.8 1649.4,175.4 C1653.6,177.1 1657.6,180.6 1660.7,183.9 C1663.8,187.2 1666.2,191.0 1667.8,195.2 C1669.4,199.4 1671.3,206.5 1670.6,209.3 C1669.9,212.1 1668.2,212.1 1663.5,212.1 C1658.8,212.1 1648.3,209.1 1642.4,209.3 C1636.5,209.5 1631.0,211.2 1628.2,213.5 C1625.4,215.8 1626.3,219.4 1625.4,223.4 C1624.5,227.4 1623.3,233.3 1622.6,237.5 C1621.9,241.7 1621.9,244.6 1621.2,248.8 C1620.5,253.1 1620.8,259.5 1618.4,263.0 C1616.0,266.5 1611.2,268.1 1607.0,270.0 C1602.8,271.9 1597.7,271.6 1593.0,274.2 C1588.3,276.8 1583.5,282.7 1578.8,285.5 C1574.1,288.3 1570.6,290.5 1564.7,291.2 C1558.8,291.9 1550.5,289.8 1543.5,289.8 C1536.5,289.8 1528.3,291.9 1522.4,291.2 C1516.5,290.5 1511.7,288.8 1508.2,285.5 C1504.7,282.2 1503.3,275.6 1501.2,271.4 C1499.1,267.2 1493.2,264.3 1495.5,260.1Z" fill="#bfbfbf" stroke="#bfbfbf" stroke-width="5.5" stroke-linecap="round" stroke-dasharray="0 5.5"/>
<path d="M1661.0,224.0 C1662.8,220.3 1668.7,222.5 1671.0,226.0 C1673.3,229.5 1672.8,240.7 1675.0,245.0 C1677.2,249.3 1680.2,246.7 1684.0,252.0 C1687.8,257.3 1695.5,268.2 1698.0,277.0 C1700.5,285.8 1700.3,298.2 1699.0,305.0 C1697.7,311.8 1694.5,315.5 1690.0,318.0 C1685.5,320.5 1677.8,319.0 1672.0,320.0 C1666.2,321.0 1660.3,323.7 1655.0,324.0 C1649.7,324.3 1644.5,324.0 1640.0,322.0 C1635.5,320.0 1629.7,316.0 1628.0,312.0 C1626.3,308.0 1628.7,302.7 1630.0,298.0 C1631.3,293.3 1633.8,288.2 1636.0,284.0 C1638.2,279.8 1639.8,276.3 1643.0,273.0 C1646.2,269.7 1652.2,268.2 1655.0,264.0 C1657.8,259.8 1659.0,254.7 1660.0,248.0 C1661.0,241.3 1659.2,227.7 1661.0,224.0Z" fill="#bfbfbf" stroke="#bfbfbf" stroke-width="5.5" stroke-linecap="round" stroke-dasharray="0 5.5"/>
<circle cx="1633.0" cy="181.0" r="4" fill="#dde6f0"/>
<circle cx="1647.0" cy="184.0" r="4" fill="#dde6f0"/>
<circle cx="1621.0" cy="203.0" r="4" fill="#dde6f0"/>
<circle cx="1657.0" cy="196.0" r="4" fill="#dde6f0"/>
<circle cx="1585.0" cy="255.0" r="4" fill="#dde6f0"/>
<circle cx="1585.0" cy="262.0" r="4" fill="#dde6f0"/>
<circle cx="1598.0" cy="265.0" r="4" fill="#dde6f0"/>
<circle cx="1595.9" cy="304.1" r="4.8" fill="#7b0b7a"/>
<circle cx="1603.0" cy="320.6" r="4.8" fill="#7b0b7a"/>
<circle cx="1608.8" cy="315.9" r="4.8" fill="#7b0b7a"/>
<circle cx="1615.9" cy="326.5" r="4.8" fill="#7b0b7a"/>
<circle cx="1635.9" cy="312.4" r="4.8" fill="#7b0b7a"/>
<circle cx="1635.9" cy="326.5" r="4.8" fill="#7b0b7a"/>
<circle cx="1588.8" cy="350.0" r="4.8" fill="#7b0b7a"/>
<circle cx="1598.2" cy="359.4" r="4.8" fill="#7b0b7a"/>
<circle cx="1631.2" cy="348.8" r="4.8" fill="#7b0b7a"/>
<circle cx="1634.7" cy="355.9" r="4.8" fill="#7b0b7a"/>
<circle cx="1563.0" cy="379.4" r="4.8" fill="#7b0b7a"/>
<circle cx="1637.0" cy="383.0" r="4.8" fill="#7b0b7a"/>
<circle cx="1625.3" cy="391.2" r="4.8" fill="#7b0b7a"/>
<circle cx="1631.2" cy="391.2" r="4.8" fill="#7b0b7a"/>
<circle cx="1608.8" cy="415.9" r="4.8" fill="#7b0b7a"/>
<circle cx="1520.6" cy="290.0" r="4.8" fill="#7b0b7a"/>
<circle cx="1528.8" cy="284.1" r="4.8" fill="#7b0b7a"/>
<circle cx="1538.2" cy="281.8" r="4.8" fill="#7b0b7a"/>
<circle cx="1545.3" cy="286.5" r="4.8" fill="#7b0b7a"/>
<circle cx="1553.5" cy="288.8" r="4.8" fill="#7b0b7a"/>
<circle cx="1559.4" cy="418.2" r="4.8" fill="#5a0859"/>
<circle cx="1566.5" cy="418.2" r="4.8" fill="#5a0859"/>
<circle cx="1573.5" cy="427.6" r="4.8" fill="#5a0859"/>
<circle cx="1578.2" cy="431.2" r="4.8" fill="#5a0859"/>
<circle cx="1583.0" cy="433.5" r="4.8" fill="#5a0859"/>
<path d="M1641.8,104.1 C1646.5,109.6 1661.4,126.0 1670.0,137.0 C1678.6,148.0 1686.4,159.8 1693.5,170.0 C1700.6,180.2 1706.5,188.8 1712.4,198.2 C1718.3,207.6 1723.7,217.1 1728.8,226.5 C1733.9,235.9 1738.7,245.3 1743.0,254.7 C1747.3,264.1 1751.6,274.6 1754.7,283.0 C1757.8,291.4 1760.0,297.9 1761.8,305.0 C1763.6,312.1 1765.5,317.6 1765.5,325.3 C1765.5,333.0 1764.8,343.8 1761.8,351.2 C1758.8,358.6 1753.9,364.5 1747.6,370.0 C1741.3,375.5 1733.1,379.0 1724.1,384.1 C1715.1,389.2 1703.7,395.1 1693.5,400.6 C1683.3,406.1 1672.8,411.5 1663.0,417.0 C1653.2,422.5 1644.1,427.6 1634.7,433.5 C1625.3,439.4 1614.0,447.5 1606.5,452.4 C1599.0,457.3 1592.8,461.2 1590.0,463.0" fill="none" stroke="#000" stroke-width="3.8" stroke-linecap="round"/>
<path d="M1574.6,473.4 L1585.1,455.6 Q1586.2,465.2 1594.9,469.4 Z" fill="#000"/>
<text x="-2.10" y="682.00" font-size="48.00" font-weight="bold" fill="#000">b</text>
<line x1="1671" y1="622.3" x2="1767" y2="622.3" stroke="#3a7dc0" stroke-width="6.7"/>
<text x="1783.69" y="628.40" font-size="27.50" font-weight="bold" fill="#000">Trajectory 1</text>
<line x1="1672" y1="664" x2="1768" y2="664" stroke="#2e8b57" stroke-width="6.7"/>
<text x="1783.69" y="670.60" font-size="27.50" font-weight="bold" fill="#000">Trajectory 2</text>
<line x1="1674" y1="704" x2="1770" y2="704" stroke="#8b4fa5" stroke-width="6.7"/>
<text x="1783.69" y="710.70" font-size="27.50" font-weight="bold" fill="#000">Trajectory 3</text>
<text x="182.69" y="790.60" font-size="34.60" font-weight="bold" fill="#000">Memory markers</text>
<text x="556.19" y="787.90" font-size="34.60" font-weight="bold" fill="#000">Effector markers</text>
<text x="883.59" y="787.90" font-size="34.60" font-weight="bold" fill="#000">Proliferation markers</text>
<text x="1244.49" y="787.90" font-size="34.60" font-weight="bold" fill="#000">IFN-response markers</text>
<text x="1622.39" y="787.90" font-size="34.60" font-weight="bold" fill="#000">Inhibitory receptors</text>
<line x1="89" y1="1681.5" x2="89" y2="1314" stroke="#000" stroke-width="4.8"/>
<polygon points="78.5,1315 99.5,1315 89,1293" fill="#000"/>
<line x1="86.6" y1="1679.3" x2="670.2" y2="1679.3" stroke="#000" stroke-width="4.8"/>
<polygon points="669.2,1669.3 669.2,1689.3 691.2,1679.3" fill="#000"/>
<text x="0" y="0" transform="translate(47.10,1629.77) rotate(-90)" font-size="35.00" font-weight="normal" fill="#000">Expression level</text>
<text x="287.13" y="1739.40" font-size="35.00" font-weight="normal" fill="#000">Pseudotime</text>
<path d="M166.0,997.3 C170.3,997.2 183.2,996.9 191.8,996.6 C200.3,996.3 208.9,995.4 217.5,995.5 C226.1,995.6 234.7,996.1 243.2,997.3 C251.8,998.5 260.4,1000.5 269.0,1002.8 C277.6,1005.1 287.0,1008.1 294.8,1011.2 C302.5,1014.2 309.8,1017.9 315.4,1021.0 C320.9,1024.2 326.1,1028.6 328.2,1030.1" fill="none" stroke="#3a7dc0" stroke-width="4.6" stroke-linecap="butt" stroke-linejoin="round"/>
<path d="M166.0,995.5 C170.3,995.5 183.2,995.3 191.8,995.5 C200.3,995.7 208.9,995.7 217.5,996.6 C226.1,997.5 236.0,998.7 243.2,1001.0 C250.5,1003.2 254.8,1008.3 261.3,1010.1 C267.7,1011.9 274.1,1010.4 281.9,1011.9 C289.6,1013.4 299.5,1015.6 307.6,1019.2 C315.8,1022.8 324.4,1032.0 330.8,1033.8 C337.2,1035.6 341.5,1032.3 346.2,1030.1 C351.0,1028.0 357.0,1022.5 359.1,1021.0" fill="none" stroke="#2e8b57" stroke-width="4.6" stroke-linecap="butt" stroke-linejoin="round"/>
<path d="M166.0,993.0 C170.3,993.4 183.2,995.4 191.8,995.5 C200.3,995.6 210.2,994.0 217.5,993.7 C224.8,993.4 229.1,992.5 235.5,993.7 C242.0,994.9 249.3,997.9 256.1,1001.0 C263.0,1004.0 270.3,1008.0 276.7,1011.9 C283.2,1015.9 288.7,1020.7 294.8,1024.7 C300.8,1028.6 306.3,1033.6 312.8,1035.6 C319.2,1037.6 325.6,1037.0 333.4,1036.7 C341.1,1036.4 351.8,1033.7 359.1,1033.8 C366.4,1033.9 370.7,1035.3 377.1,1037.4 C383.6,1039.5 390.0,1044.5 397.8,1046.5 C405.5,1048.5 417.1,1049.1 423.5,1049.4 C429.9,1049.8 434.2,1048.5 436.4,1048.4" fill="none" stroke="#8b4fa5" stroke-width="4.6" stroke-linecap="butt" stroke-linejoin="round"/>
<path d="M152.0,899.0 L152.0,1060.4 L452.0,1060.4" fill="none" stroke="#000" stroke-width="3.4"/>
<line x1="145.0" y1="1052.0" x2="152.0" y2="1052.0" stroke="#333" stroke-width="2.6"/>
<text x="125.59" y="1060.30" font-size="24.00" font-weight="normal" fill="#4d4d4d">0</text>
<line x1="145.0" y1="1015.5" x2="152.0" y2="1015.5" stroke="#333" stroke-width="2.6"/>
<text x="125.82" y="1023.85" font-size="24.00" font-weight="normal" fill="#4d4d4d">1</text>
<line x1="145.0" y1="979.1" x2="152.0" y2="979.1" stroke="#333" stroke-width="2.6"/>
<text x="125.86" y="987.40" font-size="24.00" font-weight="normal" fill="#4d4d4d">2</text>
<line x1="145.0" y1="942.7" x2="152.0" y2="942.7" stroke="#333" stroke-width="2.6"/>
<text x="125.71" y="950.95" font-size="24.00" font-weight="normal" fill="#4d4d4d">3</text>
<line x1="145.0" y1="906.2" x2="152.0" y2="906.2" stroke="#333" stroke-width="2.6"/>
<text x="125.36" y="914.50" font-size="24.00" font-weight="normal" fill="#4d4d4d">4</text>
<line x1="166.0" y1="1060.4" x2="166.0" y2="1067.4" stroke="#333" stroke-width="2.6"/>
<text x="149.32" y="1089.40" font-size="24.00" font-weight="normal" fill="#4d4d4d">0.0</text>
<line x1="230.4" y1="1060.4" x2="230.4" y2="1067.4" stroke="#333" stroke-width="2.6"/>
<text x="213.59" y="1089.40" font-size="24.00" font-weight="normal" fill="#4d4d4d">2.5</text>
<line x1="294.8" y1="1060.4" x2="294.8" y2="1067.4" stroke="#333" stroke-width="2.6"/>
<text x="278.06" y="1089.40" font-size="24.00" font-weight="normal" fill="#4d4d4d">5.0</text>
<line x1="359.1" y1="1060.4" x2="359.1" y2="1067.4" stroke="#333" stroke-width="2.6"/>
<text x="342.33" y="1089.40" font-size="24.00" font-weight="normal" fill="#4d4d4d">7.5</text>
<line x1="423.5" y1="1060.4" x2="423.5" y2="1067.4" stroke="#333" stroke-width="2.6"/>
<text x="399.70" y="1089.40" font-size="24.00" font-weight="normal" fill="#4d4d4d">10.0</text>
<text x="267.04" y="878.70" font-size="36.00" font-weight="normal" fill="#000">Tcf7</text>
<path d="M524.4,1050.1 C528.8,1050.1 542.0,1050.1 550.8,1049.8 C559.6,1049.4 569.8,1049.6 577.2,1047.9 C584.7,1046.2 589.6,1042.5 595.7,1039.6 C601.9,1036.6 608.5,1032.3 614.2,1030.1 C620.0,1027.9 624.4,1026.6 630.1,1026.3 C635.8,1026.0 642.8,1027.0 648.6,1028.2 C654.3,1029.5 658.7,1033.6 664.4,1033.9 C670.2,1034.2 676.3,1031.7 682.9,1030.1 C689.5,1028.5 697.5,1024.4 704.1,1024.4 C710.7,1024.4 719.5,1029.2 722.5,1030.1" fill="none" stroke="#2e8b57" stroke-width="4.6" stroke-linecap="butt" stroke-linejoin="round"/>
<path d="M524.4,1050.1 C533.2,1050.1 564.0,1050.1 577.2,1050.1 C590.5,1050.1 594.9,1050.5 603.7,1050.1 C612.5,1049.8 621.3,1048.9 630.1,1048.3 C638.9,1047.6 649.0,1047.8 656.5,1046.4 C664.0,1044.9 669.3,1042.6 675.0,1039.6 C680.7,1036.5 688.2,1030.1 690.8,1028.2" fill="none" stroke="#3a7dc0" stroke-width="4.6" stroke-linecap="butt" stroke-linejoin="round"/>
<path d="M524.4,1050.1 C528.8,1050.1 542.0,1050.1 550.8,1050.1 C559.6,1050.1 568.4,1050.6 577.2,1050.1 C586.0,1049.6 594.9,1048.9 603.7,1047.1 C612.5,1045.4 621.3,1042.1 630.1,1039.6 C638.9,1037.0 647.7,1033.9 656.5,1032.0 C665.3,1030.1 675.0,1029.8 682.9,1028.2 C690.8,1026.6 697.5,1023.5 704.1,1022.6 C710.7,1021.6 715.1,1021.9 722.5,1022.6 C730.0,1023.2 740.2,1026.3 749.0,1026.3 C757.8,1026.3 766.6,1025.4 775.4,1022.6 C784.2,1019.7 797.4,1011.5 801.8,1009.3" fill="none" stroke="#8b4fa5" stroke-width="4.6" stroke-linecap="butt" stroke-linejoin="round"/>
<path d="M509.6,893.3 L509.6,1058.7 L818.3,1058.7" fill="none" stroke="#000" stroke-width="3.4"/>
<line x1="502.6" y1="1050.9" x2="509.6" y2="1050.9" stroke="#333" stroke-width="2.6"/>
<text x="483.19" y="1059.20" font-size="24.00" font-weight="normal" fill="#4d4d4d">0</text>
<line x1="502.6" y1="1013.1" x2="509.6" y2="1013.1" stroke="#333" stroke-width="2.6"/>
<text x="483.42" y="1021.40" font-size="24.00" font-weight="normal" fill="#4d4d4d">1</text>
<line x1="502.6" y1="975.3" x2="509.6" y2="975.3" stroke="#333" stroke-width="2.6"/>
<text x="483.46" y="983.60" font-size="24.00" font-weight="normal" fill="#4d4d4d">2</text>
<line x1="502.6" y1="937.5" x2="509.6" y2="937.5" stroke="#333" stroke-width="2.6"/>
<text x="483.31" y="945.80" font-size="24.00" font-weight="normal" fill="#4d4d4d">3</text>
<line x1="502.6" y1="899.7" x2="509.6" y2="899.7" stroke="#333" stroke-width="2.6"/>
<text x="482.96" y="908.00" font-size="24.00" font-weight="normal" fill="#4d4d4d">4</text>
<line x1="524.4" y1="1058.7" x2="524.4" y2="1065.7" stroke="#333" stroke-width="2.6"/>
<text x="507.72" y="1087.00" font-size="24.00" font-weight="normal" fill="#4d4d4d">0.0</text>
<line x1="590.5" y1="1058.7" x2="590.5" y2="1065.7" stroke="#333" stroke-width="2.6"/>
<text x="573.67" y="1087.00" font-size="24.00" font-weight="normal" fill="#4d4d4d">2.5</text>
<line x1="656.5" y1="1058.7" x2="656.5" y2="1065.7" stroke="#333" stroke-width="2.6"/>
<text x="639.81" y="1087.00" font-size="24.00" font-weight="normal" fill="#4d4d4d">5.0</text>
<line x1="722.5" y1="1058.7" x2="722.5" y2="1065.7" stroke="#333" stroke-width="2.6"/>
<text x="705.76" y="1087.00" font-size="24.00" font-weight="normal" fill="#4d4d4d">7.5</text>
<line x1="788.6" y1="1058.7" x2="788.6" y2="1065.7" stroke="#333" stroke-width="2.6"/>
<text x="764.80" y="1087.00" font-size="24.00" font-weight="normal" fill="#4d4d4d">10.0</text>
<text x="634.63" y="870.20" font-size="36.00" font-weight="normal" fill="#000">Ifng</text>
<path d="M902.3,1047.4 C915.4,1047.4 953.4,1047.4 980.9,1047.4 C1008.5,1047.4 1053.0,1047.4 1067.4,1047.4" fill="none" stroke="#3a7dc0" stroke-width="4.6" stroke-linecap="butt" stroke-linejoin="round"/>
<path d="M902.3,1048.2 C911.0,1048.2 935.1,1048.2 954.7,1048.2 C974.4,1048.2 1006.7,1049.9 1020.2,1048.2 C1033.8,1046.5 1031.2,1043.5 1036.0,1038.1 C1040.8,1032.7 1044.7,1023.9 1049.1,1015.8 C1053.4,1007.8 1057.8,997.5 1062.2,989.8 C1066.5,982.0 1071.4,973.3 1075.3,969.3 C1079.2,965.3 1081.8,965.0 1085.8,965.6 C1089.7,966.2 1096.7,971.8 1098.9,973.0" fill="none" stroke="#2e8b57" stroke-width="4.6" stroke-linecap="butt" stroke-linejoin="round"/>
<path d="M902.3,1047.4 C911.0,1047.6 937.2,1048.1 954.7,1048.2 C972.2,1048.3 989.7,1048.5 1007.1,1048.2 C1024.6,1047.9 1044.3,1046.8 1059.6,1046.3 C1074.8,1045.9 1087.1,1045.4 1098.9,1045.6 C1110.7,1045.8 1121.6,1048.1 1130.3,1047.4 C1139.1,1046.8 1143.4,1044.3 1151.3,1041.9 C1159.2,1039.4 1173.1,1034.1 1177.5,1032.6" fill="none" stroke="#8b4fa5" stroke-width="4.6" stroke-linecap="butt" stroke-linejoin="round"/>
<path d="M888.7,893.1 L888.7,1056.3 L1193.1,1056.3" fill="none" stroke="#000" stroke-width="3.4"/>
<line x1="881.7" y1="1049.3" x2="888.7" y2="1049.3" stroke="#333" stroke-width="2.6"/>
<text x="862.29" y="1057.60" font-size="24.00" font-weight="normal" fill="#4d4d4d">0</text>
<line x1="881.7" y1="1012.1" x2="888.7" y2="1012.1" stroke="#333" stroke-width="2.6"/>
<text x="862.52" y="1020.40" font-size="24.00" font-weight="normal" fill="#4d4d4d">1</text>
<line x1="881.7" y1="974.9" x2="888.7" y2="974.9" stroke="#333" stroke-width="2.6"/>
<text x="862.56" y="983.20" font-size="24.00" font-weight="normal" fill="#4d4d4d">2</text>
<line x1="881.7" y1="937.7" x2="888.7" y2="937.7" stroke="#333" stroke-width="2.6"/>
<text x="862.41" y="946.00" font-size="24.00" font-weight="normal" fill="#4d4d4d">3</text>
<line x1="881.7" y1="900.5" x2="888.7" y2="900.5" stroke="#333" stroke-width="2.6"/>
<text x="862.06" y="908.80" font-size="24.00" font-weight="normal" fill="#4d4d4d">4</text>
<line x1="902.3" y1="1056.3" x2="902.3" y2="1063.3" stroke="#333" stroke-width="2.6"/>
<text x="885.62" y="1084.70" font-size="24.00" font-weight="normal" fill="#4d4d4d">0.0</text>
<line x1="967.8" y1="1056.3" x2="967.8" y2="1063.3" stroke="#333" stroke-width="2.6"/>
<text x="951.04" y="1084.70" font-size="24.00" font-weight="normal" fill="#4d4d4d">2.5</text>
<line x1="1033.3" y1="1056.3" x2="1033.3" y2="1063.3" stroke="#333" stroke-width="2.6"/>
<text x="1016.66" y="1084.70" font-size="24.00" font-weight="normal" fill="#4d4d4d">5.0</text>
<line x1="1098.9" y1="1056.3" x2="1098.9" y2="1063.3" stroke="#333" stroke-width="2.6"/>
<text x="1082.08" y="1084.70" font-size="24.00" font-weight="normal" fill="#4d4d4d">7.5</text>
<line x1="1164.4" y1="1056.3" x2="1164.4" y2="1063.3" stroke="#333" stroke-width="2.6"/>
<text x="1140.60" y="1084.70" font-size="24.00" font-weight="normal" fill="#4d4d4d">10.0</text>
<text x="992.31" y="872.00" font-size="36.00" font-weight="normal" fill="#000">Mki67</text>
<path d="M1275.6,1020.6 C1279.1,1022.1 1289.0,1029.2 1296.3,1029.8 C1303.6,1030.4 1312.3,1026.1 1319.6,1024.3 C1326.9,1022.4 1334.7,1019.0 1340.3,1018.7 C1345.9,1018.4 1349.4,1020.3 1353.3,1022.4 C1357.2,1024.6 1359.7,1031.3 1363.6,1031.6 C1367.5,1032.0 1372.3,1028.6 1376.6,1024.3 C1380.9,1020.0 1385.2,1009.8 1389.5,1005.8 C1393.8,1001.8 1397.7,1000.3 1402.5,1000.3 C1407.2,1000.3 1412.0,1003.7 1418.0,1005.8 C1424.0,1008.0 1432.2,1012.0 1438.7,1013.2 C1445.2,1014.4 1451.7,1013.5 1456.8,1013.2 C1462.0,1012.9 1467.6,1011.7 1469.8,1011.4" fill="none" stroke="#2e8b57" stroke-width="4.6" stroke-linecap="butt" stroke-linejoin="round"/>
<path d="M1275.6,1022.4 C1279.1,1023.7 1289.0,1029.4 1296.3,1029.8 C1303.6,1030.2 1311.4,1026.5 1319.6,1025.0 C1327.8,1023.5 1338.6,1024.1 1345.5,1020.6 C1352.4,1017.1 1355.4,1010.1 1361.0,1004.0 C1366.6,997.8 1374.0,988.6 1379.2,983.7 C1384.3,978.8 1387.8,977.2 1392.1,974.5 C1396.4,971.7 1400.3,969.2 1405.0,967.1 C1409.8,964.9 1415.0,964.9 1420.6,961.5 C1426.2,958.2 1435.7,949.2 1438.7,946.8" fill="none" stroke="#3a7dc0" stroke-width="4.6" stroke-linecap="butt" stroke-linejoin="round"/>
<path d="M1275.6,1035.3 C1279.9,1035.6 1292.9,1038.4 1301.5,1037.2 C1310.1,1036.0 1320.0,1030.4 1327.4,1028.0 C1334.7,1025.5 1339.0,1022.4 1345.5,1022.4 C1352.0,1022.4 1358.4,1026.7 1366.2,1028.0 C1374.0,1029.2 1383.5,1029.5 1392.1,1029.8 C1400.7,1030.1 1409.4,1030.7 1418.0,1029.8 C1426.6,1028.9 1435.3,1026.7 1443.9,1024.3 C1452.5,1021.8 1463.3,1016.3 1469.8,1015.0 C1476.2,1013.8 1476.2,1014.7 1482.7,1016.9 C1489.2,1019.0 1500.0,1026.1 1508.6,1028.0 C1517.2,1029.8 1528.0,1028.9 1534.5,1028.0 C1541.0,1027.0 1545.3,1023.3 1547.4,1022.4" fill="none" stroke="#8b4fa5" stroke-width="4.6" stroke-linecap="butt" stroke-linejoin="round"/>
<path d="M1261.5,895.5 L1261.5,1056.3 L1562.5,1056.3" fill="none" stroke="#000" stroke-width="3.4"/>
<line x1="1254.5" y1="1050.1" x2="1261.5" y2="1050.1" stroke="#333" stroke-width="2.6"/>
<text x="1235.09" y="1058.40" font-size="24.00" font-weight="normal" fill="#4d4d4d">0</text>
<line x1="1254.5" y1="1013.2" x2="1261.5" y2="1013.2" stroke="#333" stroke-width="2.6"/>
<text x="1235.32" y="1021.50" font-size="24.00" font-weight="normal" fill="#4d4d4d">1</text>
<line x1="1254.5" y1="976.3" x2="1261.5" y2="976.3" stroke="#333" stroke-width="2.6"/>
<text x="1235.36" y="984.60" font-size="24.00" font-weight="normal" fill="#4d4d4d">2</text>
<line x1="1254.5" y1="939.4" x2="1261.5" y2="939.4" stroke="#333" stroke-width="2.6"/>
<text x="1235.21" y="947.70" font-size="24.00" font-weight="normal" fill="#4d4d4d">3</text>
<line x1="1254.5" y1="902.5" x2="1261.5" y2="902.5" stroke="#333" stroke-width="2.6"/>
<text x="1234.86" y="910.80" font-size="24.00" font-weight="normal" fill="#4d4d4d">4</text>
<line x1="1275.6" y1="1056.3" x2="1275.6" y2="1063.3" stroke="#333" stroke-width="2.6"/>
<text x="1258.92" y="1085.40" font-size="24.00" font-weight="normal" fill="#4d4d4d">0.0</text>
<line x1="1340.3" y1="1056.3" x2="1340.3" y2="1063.3" stroke="#333" stroke-width="2.6"/>
<text x="1323.54" y="1085.40" font-size="24.00" font-weight="normal" fill="#4d4d4d">2.5</text>
<line x1="1405.0" y1="1056.3" x2="1405.0" y2="1063.3" stroke="#333" stroke-width="2.6"/>
<text x="1388.36" y="1085.40" font-size="24.00" font-weight="normal" fill="#4d4d4d">5.0</text>
<line x1="1469.8" y1="1056.3" x2="1469.8" y2="1063.3" stroke="#333" stroke-width="2.6"/>
<text x="1452.98" y="1085.40" font-size="24.00" font-weight="normal" fill="#4d4d4d">7.5</text>
<line x1="1534.5" y1="1056.3" x2="1534.5" y2="1063.3" stroke="#333" stroke-width="2.6"/>
<text x="1510.70" y="1085.40" font-size="24.00" font-weight="normal" fill="#4d4d4d">10.0</text>
<text x="1375.71" y="874.50" font-size="36.00" font-weight="normal" fill="#000">Bst2</text>
<path d="M1634.7,1049.4 C1645.6,1049.4 1687.0,1050.7 1700.0,1049.4 C1713.1,1048.2 1708.3,1044.2 1713.1,1042.0 C1717.9,1039.9 1723.6,1037.3 1728.8,1036.5 C1734.0,1035.7 1739.3,1036.5 1744.5,1037.2 C1749.7,1038.0 1754.5,1040.4 1760.2,1040.9 C1765.8,1041.4 1773.2,1040.9 1778.5,1040.2 C1783.7,1039.4 1786.7,1038.4 1791.5,1036.5 C1796.3,1034.5 1802.9,1029.7 1807.2,1028.3 C1811.6,1027.0 1813.8,1027.0 1817.7,1028.3 C1821.6,1029.7 1828.6,1035.1 1830.8,1036.5" fill="none" stroke="#2e8b57" stroke-width="4.6" stroke-linecap="butt" stroke-linejoin="round"/>
<path d="M1634.7,1049.4 C1645.6,1049.6 1684.8,1049.9 1700.0,1050.2 C1715.3,1050.5 1717.5,1051.7 1726.2,1051.3 C1734.9,1050.9 1743.6,1049.4 1752.3,1047.6 C1761.0,1045.7 1770.6,1042.3 1778.5,1040.2 C1786.3,1038.0 1795.9,1035.5 1799.4,1034.6" fill="none" stroke="#3a7dc0" stroke-width="4.6" stroke-linecap="butt" stroke-linejoin="round"/>
<path d="M1634.7,1049.4 C1645.6,1049.4 1685.2,1049.1 1700.0,1049.4 C1714.9,1049.8 1716.6,1052.5 1723.6,1051.3 C1730.5,1050.1 1735.8,1044.8 1741.9,1042.0 C1748.0,1039.3 1754.1,1035.5 1760.2,1034.6 C1766.3,1033.7 1773.2,1035.9 1778.5,1036.5 C1783.7,1037.1 1786.7,1038.6 1791.5,1038.3 C1796.3,1038.0 1802.4,1036.3 1807.2,1034.6 C1812.0,1032.9 1815.9,1031.4 1820.3,1028.3 C1824.7,1025.2 1828.6,1020.9 1833.4,1016.1 C1838.2,1011.3 1843.8,1003.7 1849.0,999.4 C1854.3,995.1 1859.1,992.6 1864.7,990.1 C1870.4,987.7 1875.6,986.1 1883.0,984.6 C1890.4,983.0 1904.8,981.5 1909.2,980.9" fill="none" stroke="#8b4fa5" stroke-width="4.6" stroke-linecap="butt" stroke-linejoin="round"/>
<path d="M1621.6,896.3 L1621.6,1058.7 L1923.3,1058.7" fill="none" stroke="#000" stroke-width="3.4"/>
<line x1="1614.6" y1="1051.3" x2="1621.6" y2="1051.3" stroke="#333" stroke-width="2.6"/>
<text x="1595.19" y="1059.60" font-size="24.00" font-weight="normal" fill="#4d4d4d">0</text>
<line x1="1614.6" y1="1014.2" x2="1621.6" y2="1014.2" stroke="#333" stroke-width="2.6"/>
<text x="1595.42" y="1022.52" font-size="24.00" font-weight="normal" fill="#4d4d4d">1</text>
<line x1="1614.6" y1="977.1" x2="1621.6" y2="977.1" stroke="#333" stroke-width="2.6"/>
<text x="1595.46" y="985.45" font-size="24.00" font-weight="normal" fill="#4d4d4d">2</text>
<line x1="1614.6" y1="940.1" x2="1621.6" y2="940.1" stroke="#333" stroke-width="2.6"/>
<text x="1595.31" y="948.38" font-size="24.00" font-weight="normal" fill="#4d4d4d">3</text>
<line x1="1614.6" y1="903.0" x2="1621.6" y2="903.0" stroke="#333" stroke-width="2.6"/>
<text x="1594.96" y="911.30" font-size="24.00" font-weight="normal" fill="#4d4d4d">4</text>
<line x1="1634.7" y1="1058.7" x2="1634.7" y2="1065.7" stroke="#333" stroke-width="2.6"/>
<text x="1618.02" y="1087.20" font-size="24.00" font-weight="normal" fill="#4d4d4d">0.0</text>
<line x1="1700.0" y1="1058.7" x2="1700.0" y2="1065.7" stroke="#333" stroke-width="2.6"/>
<text x="1683.27" y="1087.20" font-size="24.00" font-weight="normal" fill="#4d4d4d">2.5</text>
<line x1="1765.4" y1="1058.7" x2="1765.4" y2="1065.7" stroke="#333" stroke-width="2.6"/>
<text x="1748.71" y="1087.20" font-size="24.00" font-weight="normal" fill="#4d4d4d">5.0</text>
<line x1="1830.8" y1="1058.7" x2="1830.8" y2="1065.7" stroke="#333" stroke-width="2.6"/>
<text x="1813.96" y="1087.20" font-size="24.00" font-weight="normal" fill="#4d4d4d">7.5</text>
<line x1="1896.1" y1="1058.7" x2="1896.1" y2="1065.7" stroke="#333" stroke-width="2.6"/>
<text x="1872.30" y="1087.20" font-size="24.00" font-weight="normal" fill="#4d4d4d">10.0</text>
<text x="1720.26" y="874.50" font-size="36.00" font-weight="normal" fill="#000">Pdcd1</text>
<path d="M168.5,1273.3 C172.9,1273.5 185.9,1274.4 194.7,1274.4 C203.4,1274.4 212.1,1273.5 220.8,1273.3 C229.5,1273.1 238.3,1272.6 247.0,1273.3 C255.7,1273.9 264.4,1275.1 273.1,1277.0 C281.9,1278.9 289.3,1281.4 299.3,1284.5 C309.3,1287.6 327.6,1293.8 333.3,1295.7" fill="none" stroke="#3a7dc0" stroke-width="4.6" stroke-linecap="butt" stroke-linejoin="round"/>
<path d="M168.5,1273.3 C172.9,1273.6 185.9,1275.1 194.7,1275.1 C203.4,1275.1 214.7,1273.0 220.8,1273.3 C226.9,1273.6 226.9,1273.6 231.3,1277.0 C235.6,1280.4 242.2,1289.8 247.0,1293.8 C251.8,1297.9 255.7,1300.7 260.1,1301.3 C264.4,1301.9 268.8,1299.1 273.1,1297.6 C277.5,1296.0 281.9,1292.3 286.2,1292.0 C290.6,1291.7 294.1,1292.9 299.3,1295.7 C304.5,1298.5 311.9,1305.7 317.6,1308.8 C323.3,1311.9 327.6,1313.5 333.3,1314.4 C339.0,1315.3 346.4,1315.3 351.6,1314.4 C356.9,1313.5 362.5,1309.7 364.7,1308.8" fill="none" stroke="#2e8b57" stroke-width="4.6" stroke-linecap="butt" stroke-linejoin="round"/>
<path d="M168.5,1301.3 C172.0,1301.6 182.9,1304.1 189.4,1303.2 C196.0,1302.3 201.6,1299.8 207.7,1295.7 C213.8,1291.7 219.9,1282.9 226.1,1278.9 C232.2,1274.8 238.7,1271.7 244.4,1271.4 C250.0,1271.1 254.4,1272.6 260.1,1277.0 C265.7,1281.4 272.7,1291.0 278.4,1297.6 C284.0,1304.1 288.4,1311.6 294.1,1316.3 C299.7,1321.0 305.0,1323.9 312.4,1325.6 C319.8,1327.4 328.5,1326.9 338.5,1326.8 C348.6,1326.6 361.6,1324.5 372.5,1324.5 C383.4,1324.5 392.2,1326.7 403.9,1326.8 C415.7,1326.8 436.6,1325.2 443.2,1324.9" fill="none" stroke="#8b4fa5" stroke-width="4.6" stroke-linecap="butt" stroke-linejoin="round"/>
<path d="M154.4,1171.7 L154.4,1334.4 L458.5,1334.4" fill="none" stroke="#000" stroke-width="3.4"/>
<line x1="147.4" y1="1327.5" x2="154.4" y2="1327.5" stroke="#333" stroke-width="2.6"/>
<text x="127.99" y="1335.80" font-size="24.00" font-weight="normal" fill="#4d4d4d">0</text>
<line x1="147.4" y1="1290.1" x2="154.4" y2="1290.1" stroke="#333" stroke-width="2.6"/>
<text x="128.22" y="1298.40" font-size="24.00" font-weight="normal" fill="#4d4d4d">1</text>
<line x1="147.4" y1="1252.7" x2="154.4" y2="1252.7" stroke="#333" stroke-width="2.6"/>
<text x="128.26" y="1261.00" font-size="24.00" font-weight="normal" fill="#4d4d4d">2</text>
<line x1="147.4" y1="1215.3" x2="154.4" y2="1215.3" stroke="#333" stroke-width="2.6"/>
<text x="128.11" y="1223.60" font-size="24.00" font-weight="normal" fill="#4d4d4d">3</text>
<line x1="147.4" y1="1177.9" x2="154.4" y2="1177.9" stroke="#333" stroke-width="2.6"/>
<text x="127.76" y="1186.20" font-size="24.00" font-weight="normal" fill="#4d4d4d">4</text>
<line x1="168.5" y1="1334.4" x2="168.5" y2="1341.4" stroke="#333" stroke-width="2.6"/>
<text x="151.82" y="1364.00" font-size="24.00" font-weight="normal" fill="#4d4d4d">0.0</text>
<line x1="233.9" y1="1334.4" x2="233.9" y2="1341.4" stroke="#333" stroke-width="2.6"/>
<text x="217.12" y="1364.00" font-size="24.00" font-weight="normal" fill="#4d4d4d">2.5</text>
<line x1="299.3" y1="1334.4" x2="299.3" y2="1341.4" stroke="#333" stroke-width="2.6"/>
<text x="282.61" y="1364.00" font-size="24.00" font-weight="normal" fill="#4d4d4d">5.0</text>
<line x1="364.7" y1="1334.4" x2="364.7" y2="1341.4" stroke="#333" stroke-width="2.6"/>
<text x="347.91" y="1364.00" font-size="24.00" font-weight="normal" fill="#4d4d4d">7.5</text>
<line x1="430.1" y1="1334.4" x2="430.1" y2="1341.4" stroke="#333" stroke-width="2.6"/>
<text x="406.30" y="1364.00" font-size="24.00" font-weight="normal" fill="#4d4d4d">10.0</text>
<text x="276.82" y="1148.70" font-size="36.00" font-weight="normal" fill="#000">Sell</text>
<path d="M521.8,1320.0 C524.0,1314.4 530.1,1295.3 534.9,1286.3 C539.7,1277.2 544.1,1270.3 550.6,1265.6 C557.2,1260.9 566.8,1259.1 574.2,1258.1 C581.6,1257.2 589.5,1258.1 595.2,1260.0 C600.9,1261.9 603.9,1266.8 608.3,1269.4 C612.7,1272.0 617.0,1275.8 621.4,1275.8 C625.8,1275.8 629.3,1272.6 634.5,1269.4 C639.7,1266.1 647.2,1259.7 652.8,1256.3 C658.5,1252.8 662.9,1251.6 668.6,1248.8 C674.3,1245.9 683.9,1240.9 686.9,1239.4" fill="none" stroke="#3a7dc0" stroke-width="4.6" stroke-linecap="butt" stroke-linejoin="round"/>
<path d="M521.8,1327.6 C524.0,1320.7 530.5,1295.7 534.9,1286.3 C539.3,1276.9 543.6,1275.3 548.0,1271.3 C552.4,1267.2 556.7,1264.4 561.1,1261.9 C565.5,1259.4 568.5,1257.2 574.2,1256.3 C579.9,1255.3 589.5,1259.4 595.2,1256.3 C600.9,1253.1 603.1,1242.8 608.3,1237.5 C613.5,1232.2 621.0,1225.6 626.6,1224.4 C632.3,1223.1 637.6,1225.9 642.4,1230.0 C647.2,1234.1 650.7,1243.7 655.5,1248.8 C660.3,1253.8 666.0,1259.7 671.2,1260.0 C676.4,1260.3 682.1,1253.4 686.9,1250.6 C691.7,1247.8 694.8,1242.2 700.0,1243.1 C705.3,1244.1 715.3,1254.1 718.4,1256.3" fill="none" stroke="#2e8b57" stroke-width="4.6" stroke-linecap="butt" stroke-linejoin="round"/>
<path d="M521.8,1320.0 C526.2,1318.2 539.3,1313.8 548.0,1308.8 C556.7,1303.8 567.2,1295.3 574.2,1290.0 C581.2,1284.7 583.4,1281.3 589.9,1276.9 C596.5,1272.5 606.1,1269.7 613.5,1263.8 C621.0,1257.8 627.1,1248.8 634.5,1241.2 C641.9,1233.7 650.7,1224.7 658.1,1218.7 C665.5,1212.8 672.5,1208.6 679.1,1205.6 C685.6,1202.6 691.7,1201.0 697.4,1200.7 C703.1,1200.4 707.5,1202.9 713.1,1203.7 C718.8,1204.5 725.4,1207.5 731.5,1205.6 C737.6,1203.7 743.3,1196.2 749.8,1192.5 C756.4,1188.7 762.9,1184.0 770.8,1183.1 C778.7,1182.1 792.6,1186.2 797.0,1186.8" fill="none" stroke="#8b4fa5" stroke-width="4.6" stroke-linecap="butt" stroke-linejoin="round"/>
<path d="M507.7,1166.8 L507.7,1331.2 L812.4,1331.2" fill="none" stroke="#000" stroke-width="3.4"/>
<line x1="500.7" y1="1323.8" x2="507.7" y2="1323.8" stroke="#333" stroke-width="2.6"/>
<text x="481.29" y="1332.10" font-size="24.00" font-weight="normal" fill="#4d4d4d">0</text>
<line x1="500.7" y1="1286.3" x2="507.7" y2="1286.3" stroke="#333" stroke-width="2.6"/>
<text x="481.52" y="1294.58" font-size="24.00" font-weight="normal" fill="#4d4d4d">1</text>
<line x1="500.7" y1="1248.8" x2="507.7" y2="1248.8" stroke="#333" stroke-width="2.6"/>
<text x="481.56" y="1257.05" font-size="24.00" font-weight="normal" fill="#4d4d4d">2</text>
<line x1="500.7" y1="1211.2" x2="507.7" y2="1211.2" stroke="#333" stroke-width="2.6"/>
<text x="481.41" y="1219.52" font-size="24.00" font-weight="normal" fill="#4d4d4d">3</text>
<line x1="500.7" y1="1173.7" x2="507.7" y2="1173.7" stroke="#333" stroke-width="2.6"/>
<text x="481.06" y="1182.00" font-size="24.00" font-weight="normal" fill="#4d4d4d">4</text>
<line x1="521.8" y1="1331.2" x2="521.8" y2="1338.2" stroke="#333" stroke-width="2.6"/>
<text x="505.12" y="1359.60" font-size="24.00" font-weight="normal" fill="#4d4d4d">0.0</text>
<line x1="587.3" y1="1331.2" x2="587.3" y2="1338.2" stroke="#333" stroke-width="2.6"/>
<text x="570.54" y="1359.60" font-size="24.00" font-weight="normal" fill="#4d4d4d">2.5</text>
<line x1="652.8" y1="1331.2" x2="652.8" y2="1338.2" stroke="#333" stroke-width="2.6"/>
<text x="636.16" y="1359.60" font-size="24.00" font-weight="normal" fill="#4d4d4d">5.0</text>
<line x1="718.4" y1="1331.2" x2="718.4" y2="1338.2" stroke="#333" stroke-width="2.6"/>
<text x="701.58" y="1359.60" font-size="24.00" font-weight="normal" fill="#4d4d4d">7.5</text>
<line x1="783.9" y1="1331.2" x2="783.9" y2="1338.2" stroke="#333" stroke-width="2.6"/>
<text x="760.10" y="1359.60" font-size="24.00" font-weight="normal" fill="#4d4d4d">10.0</text>
<text x="618.06" y="1145.70" font-size="36.00" font-weight="normal" fill="#000">Nkg7</text>
<path d="M899.3,1321.6 C912.5,1321.6 950.7,1321.7 978.3,1321.6 C1006.0,1321.5 1050.8,1321.0 1065.2,1320.8" fill="none" stroke="#3a7dc0" stroke-width="4.6" stroke-linecap="butt" stroke-linejoin="round"/>
<path d="M899.3,1321.6 C910.3,1321.4 949.8,1320.5 965.1,1320.5 C980.5,1320.5 983.6,1322.7 991.5,1321.6 C999.4,1320.5 1006.0,1314.2 1012.6,1314.1 C1019.1,1314.0 1025.3,1319.6 1031.0,1320.8 C1036.7,1322.1 1042.0,1324.6 1046.8,1321.6 C1051.6,1318.6 1056.0,1311.6 1060.0,1302.8 C1063.9,1294.0 1066.6,1278.7 1070.5,1269.0 C1074.5,1259.2 1079.3,1250.2 1083.7,1244.5 C1088.1,1238.9 1094.7,1236.7 1096.8,1235.1" fill="none" stroke="#2e8b57" stroke-width="4.6" stroke-linecap="butt" stroke-linejoin="round"/>
<path d="M899.3,1321.6 C910.3,1321.3 949.8,1319.4 965.1,1319.7 C980.5,1320.0 982.7,1323.3 991.5,1323.5 C1000.3,1323.7 1009.9,1320.8 1017.8,1320.8 C1025.7,1320.8 1030.1,1323.5 1038.9,1323.5 C1047.7,1323.4 1060.9,1321.0 1070.5,1320.5 C1080.2,1320.0 1087.2,1320.3 1096.8,1320.5 C1106.5,1320.7 1119.7,1322.0 1128.5,1321.6 C1137.2,1321.2 1141.6,1319.7 1149.5,1317.8 C1157.4,1316.0 1171.5,1311.6 1175.9,1310.3" fill="none" stroke="#8b4fa5" stroke-width="4.6" stroke-linecap="butt" stroke-linejoin="round"/>
<path d="M885.7,1165.0 L885.7,1329.0 L1191.1,1329.0" fill="none" stroke="#000" stroke-width="3.4"/>
<line x1="878.7" y1="1321.6" x2="885.7" y2="1321.6" stroke="#333" stroke-width="2.6"/>
<text x="859.29" y="1329.90" font-size="24.00" font-weight="normal" fill="#4d4d4d">0</text>
<line x1="878.7" y1="1284.0" x2="885.7" y2="1284.0" stroke="#333" stroke-width="2.6"/>
<text x="859.52" y="1292.30" font-size="24.00" font-weight="normal" fill="#4d4d4d">1</text>
<line x1="878.7" y1="1246.4" x2="885.7" y2="1246.4" stroke="#333" stroke-width="2.6"/>
<text x="859.56" y="1254.70" font-size="24.00" font-weight="normal" fill="#4d4d4d">2</text>
<line x1="878.7" y1="1208.8" x2="885.7" y2="1208.8" stroke="#333" stroke-width="2.6"/>
<text x="859.41" y="1217.10" font-size="24.00" font-weight="normal" fill="#4d4d4d">3</text>
<line x1="878.7" y1="1171.2" x2="885.7" y2="1171.2" stroke="#333" stroke-width="2.6"/>
<text x="859.06" y="1179.50" font-size="24.00" font-weight="normal" fill="#4d4d4d">4</text>
<line x1="899.3" y1="1329.0" x2="899.3" y2="1336.0" stroke="#333" stroke-width="2.6"/>
<text x="882.62" y="1354.20" font-size="24.00" font-weight="normal" fill="#4d4d4d">0.0</text>
<line x1="965.1" y1="1329.0" x2="965.1" y2="1336.0" stroke="#333" stroke-width="2.6"/>
<text x="948.37" y="1354.20" font-size="24.00" font-weight="normal" fill="#4d4d4d">2.5</text>
<line x1="1031.0" y1="1329.0" x2="1031.0" y2="1336.0" stroke="#333" stroke-width="2.6"/>
<text x="1014.31" y="1354.20" font-size="24.00" font-weight="normal" fill="#4d4d4d">5.0</text>
<line x1="1096.8" y1="1329.0" x2="1096.8" y2="1336.0" stroke="#333" stroke-width="2.6"/>
<text x="1080.06" y="1354.20" font-size="24.00" font-weight="normal" fill="#4d4d4d">7.5</text>
<line x1="1162.7" y1="1329.0" x2="1162.7" y2="1336.0" stroke="#333" stroke-width="2.6"/>
<text x="1138.90" y="1354.20" font-size="24.00" font-weight="normal" fill="#4d4d4d">10.0</text>
<text x="986.75" y="1142.00" font-size="36.00" font-weight="normal" fill="#000">Ube2c</text>
<path d="M1276.9,1317.6 C1283.3,1317.5 1304.8,1317.5 1315.5,1316.9 C1326.3,1316.3 1333.6,1313.9 1341.3,1313.9 C1349.0,1313.9 1355.9,1318.1 1361.9,1316.9 C1367.9,1315.6 1371.8,1309.8 1377.4,1306.6 C1382.9,1303.3 1389.8,1298.0 1395.4,1297.4 C1401.0,1296.8 1406.1,1300.5 1410.9,1302.9 C1415.6,1305.4 1419.4,1310.0 1423.7,1312.1 C1428.0,1314.2 1431.9,1315.8 1436.6,1315.8 C1441.3,1315.8 1446.5,1313.6 1452.1,1312.1 C1457.6,1310.6 1467.1,1307.5 1470.1,1306.6" fill="none" stroke="#2e8b57" stroke-width="4.6" stroke-linecap="butt" stroke-linejoin="round"/>
<path d="M1276.9,1317.6 C1285.5,1317.5 1315.5,1317.2 1328.4,1316.9 C1341.3,1316.6 1347.3,1317.5 1354.2,1315.8 C1361.0,1314.1 1364.1,1310.6 1369.6,1306.6 C1375.2,1302.6 1381.7,1296.8 1387.7,1291.9 C1393.7,1287.0 1400.1,1282.7 1405.7,1277.2 C1411.3,1271.7 1415.6,1267.4 1421.2,1258.9 C1426.7,1250.3 1436.2,1231.4 1439.2,1225.8" fill="none" stroke="#3a7dc0" stroke-width="4.6" stroke-linecap="butt" stroke-linejoin="round"/>
<path d="M1276.9,1317.6 C1285.5,1317.5 1313.4,1317.0 1328.4,1316.9 C1343.4,1316.7 1354.2,1317.4 1367.1,1316.9 C1379.9,1316.4 1394.1,1314.7 1405.7,1313.9 C1417.3,1313.1 1428.0,1312.8 1436.6,1312.1 C1445.2,1311.4 1450.4,1311.1 1457.2,1309.5 C1464.1,1308.0 1471.4,1303.1 1477.8,1302.9 C1484.3,1302.7 1489.8,1306.3 1495.9,1308.4 C1501.9,1310.6 1507.5,1314.5 1513.9,1315.8 C1520.3,1317.0 1528.9,1316.3 1534.5,1315.8 C1540.1,1315.3 1545.2,1313.3 1547.4,1312.8" fill="none" stroke="#8b4fa5" stroke-width="4.6" stroke-linecap="butt" stroke-linejoin="round"/>
<path d="M1262.8,1163.8 L1262.8,1325.3 L1562.5,1325.3" fill="none" stroke="#000" stroke-width="3.4"/>
<line x1="1255.8" y1="1317.6" x2="1262.8" y2="1317.6" stroke="#333" stroke-width="2.6"/>
<text x="1236.39" y="1325.90" font-size="24.00" font-weight="normal" fill="#4d4d4d">0</text>
<line x1="1255.8" y1="1280.9" x2="1262.8" y2="1280.9" stroke="#333" stroke-width="2.6"/>
<text x="1236.62" y="1289.20" font-size="24.00" font-weight="normal" fill="#4d4d4d">1</text>
<line x1="1255.8" y1="1244.2" x2="1262.8" y2="1244.2" stroke="#333" stroke-width="2.6"/>
<text x="1236.66" y="1252.50" font-size="24.00" font-weight="normal" fill="#4d4d4d">2</text>
<line x1="1255.8" y1="1207.5" x2="1262.8" y2="1207.5" stroke="#333" stroke-width="2.6"/>
<text x="1236.51" y="1215.80" font-size="24.00" font-weight="normal" fill="#4d4d4d">3</text>
<line x1="1255.8" y1="1170.8" x2="1262.8" y2="1170.8" stroke="#333" stroke-width="2.6"/>
<text x="1236.16" y="1179.10" font-size="24.00" font-weight="normal" fill="#4d4d4d">4</text>
<line x1="1276.9" y1="1325.3" x2="1276.9" y2="1332.3" stroke="#333" stroke-width="2.6"/>
<text x="1260.22" y="1353.00" font-size="24.00" font-weight="normal" fill="#4d4d4d">0.0</text>
<line x1="1341.3" y1="1325.3" x2="1341.3" y2="1332.3" stroke="#333" stroke-width="2.6"/>
<text x="1324.52" y="1353.00" font-size="24.00" font-weight="normal" fill="#4d4d4d">2.5</text>
<line x1="1405.7" y1="1325.3" x2="1405.7" y2="1332.3" stroke="#333" stroke-width="2.6"/>
<text x="1389.01" y="1353.00" font-size="24.00" font-weight="normal" fill="#4d4d4d">5.0</text>
<line x1="1470.1" y1="1325.3" x2="1470.1" y2="1332.3" stroke="#333" stroke-width="2.6"/>
<text x="1453.31" y="1353.00" font-size="24.00" font-weight="normal" fill="#4d4d4d">7.5</text>
<line x1="1534.5" y1="1325.3" x2="1534.5" y2="1332.3" stroke="#333" stroke-width="2.6"/>
<text x="1510.70" y="1353.00" font-size="24.00" font-weight="normal" fill="#4d4d4d">10.0</text>
<text x="1383.57" y="1142.00" font-size="36.00" font-weight="normal" fill="#000">Ifit3</text>
<path d="M1636.5,1316.6 C1653.5,1316.6 1717.2,1317.2 1738.4,1316.6 C1759.6,1316.0 1755.4,1314.5 1763.8,1313.0 C1772.3,1311.5 1785.1,1308.4 1789.3,1307.5" fill="none" stroke="#3a7dc0" stroke-width="4.6" stroke-linecap="butt" stroke-linejoin="round"/>
<path d="M1636.5,1316.6 C1649.2,1316.4 1695.9,1316.6 1712.9,1315.5 C1729.9,1314.4 1729.9,1311.0 1738.4,1310.1 C1746.9,1309.1 1755.4,1310.7 1763.8,1310.1 C1772.3,1309.5 1782.1,1308.1 1789.3,1306.4 C1796.5,1304.8 1802.5,1301.0 1807.1,1300.2 C1811.8,1299.5 1813.9,1300.5 1817.3,1302.1 C1820.7,1303.6 1825.8,1308.1 1827.5,1309.3" fill="none" stroke="#2e8b57" stroke-width="4.6" stroke-linecap="butt" stroke-linejoin="round"/>
<path d="M1636.5,1316.6 C1649.2,1316.6 1695.9,1316.9 1712.9,1316.6 C1729.9,1316.3 1729.9,1315.7 1738.4,1314.8 C1746.9,1313.9 1755.4,1312.4 1763.8,1311.1 C1772.3,1309.9 1780.8,1308.4 1789.3,1307.5 C1797.8,1306.6 1808.0,1307.8 1814.8,1305.7 C1821.6,1303.6 1825.4,1300.8 1830.1,1294.8 C1834.7,1288.7 1838.6,1277.5 1842.8,1269.3 C1847.1,1261.2 1851.3,1252.1 1855.5,1245.7 C1859.8,1239.4 1864.0,1234.2 1868.3,1231.2 C1872.5,1228.1 1876.8,1227.8 1881.0,1227.5 C1885.3,1227.2 1889.9,1228.3 1893.7,1229.4 C1897.6,1230.4 1902.2,1233.0 1903.9,1233.7" fill="none" stroke="#8b4fa5" stroke-width="4.6" stroke-linecap="butt" stroke-linejoin="round"/>
<path d="M1622.9,1165.0 L1622.9,1324.0 L1918.4,1324.0" fill="none" stroke="#000" stroke-width="3.4"/>
<line x1="1615.9" y1="1316.6" x2="1622.9" y2="1316.6" stroke="#333" stroke-width="2.6"/>
<text x="1596.49" y="1324.90" font-size="24.00" font-weight="normal" fill="#4d4d4d">0</text>
<line x1="1615.9" y1="1280.2" x2="1622.9" y2="1280.2" stroke="#333" stroke-width="2.6"/>
<text x="1596.72" y="1288.55" font-size="24.00" font-weight="normal" fill="#4d4d4d">1</text>
<line x1="1615.9" y1="1243.9" x2="1622.9" y2="1243.9" stroke="#333" stroke-width="2.6"/>
<text x="1596.76" y="1252.20" font-size="24.00" font-weight="normal" fill="#4d4d4d">2</text>
<line x1="1615.9" y1="1207.5" x2="1622.9" y2="1207.5" stroke="#333" stroke-width="2.6"/>
<text x="1596.61" y="1215.85" font-size="24.00" font-weight="normal" fill="#4d4d4d">3</text>
<line x1="1615.9" y1="1171.2" x2="1622.9" y2="1171.2" stroke="#333" stroke-width="2.6"/>
<text x="1596.26" y="1179.50" font-size="24.00" font-weight="normal" fill="#4d4d4d">4</text>
<line x1="1636.5" y1="1324.0" x2="1636.5" y2="1331.0" stroke="#333" stroke-width="2.6"/>
<text x="1619.82" y="1354.00" font-size="24.00" font-weight="normal" fill="#4d4d4d">0.0</text>
<line x1="1700.2" y1="1324.0" x2="1700.2" y2="1331.0" stroke="#333" stroke-width="2.6"/>
<text x="1683.39" y="1354.00" font-size="24.00" font-weight="normal" fill="#4d4d4d">2.5</text>
<line x1="1763.8" y1="1324.0" x2="1763.8" y2="1331.0" stroke="#333" stroke-width="2.6"/>
<text x="1747.16" y="1354.00" font-size="24.00" font-weight="normal" fill="#4d4d4d">5.0</text>
<line x1="1827.5" y1="1324.0" x2="1827.5" y2="1331.0" stroke="#333" stroke-width="2.6"/>
<text x="1810.73" y="1354.00" font-size="24.00" font-weight="normal" fill="#4d4d4d">7.5</text>
<line x1="1891.2" y1="1324.0" x2="1891.2" y2="1331.0" stroke="#333" stroke-width="2.6"/>
<text x="1867.40" y="1354.00" font-size="24.00" font-weight="normal" fill="#4d4d4d">10.0</text>
<text x="1730.42" y="1143.50" font-size="36.00" font-weight="normal" fill="#000">Lag3</text>
<path d="M168.5,1531.8 C172.9,1532.4 185.9,1534.6 194.7,1535.6 C203.4,1536.5 212.1,1536.8 220.8,1537.5 C229.5,1538.1 238.3,1537.8 247.0,1539.3 C255.7,1540.9 264.4,1544.0 273.1,1546.9 C281.9,1549.7 289.3,1552.5 299.3,1556.3 C309.3,1560.0 327.6,1567.2 333.3,1569.4" fill="none" stroke="#3a7dc0" stroke-width="4.6" stroke-linecap="butt" stroke-linejoin="round"/>
<path d="M168.5,1529.9 C172.9,1530.9 185.9,1534.1 194.7,1535.6 C203.4,1537.0 214.3,1537.6 220.8,1538.6 C227.4,1539.5 229.5,1539.2 233.9,1541.2 C238.3,1543.2 242.6,1547.5 247.0,1550.6 C251.3,1553.8 254.4,1558.1 260.1,1560.0 C265.7,1561.9 274.4,1560.6 281.0,1561.9 C287.5,1563.2 293.2,1565.0 299.3,1567.5 C305.4,1570.0 311.1,1574.4 317.6,1576.9 C324.2,1579.4 332.9,1581.6 338.5,1582.6 C344.2,1583.5 347.3,1583.2 351.6,1582.6 C356.0,1582.0 362.5,1579.4 364.7,1578.8" fill="none" stroke="#2e8b57" stroke-width="4.6" stroke-linecap="butt" stroke-linejoin="round"/>
<path d="M168.5,1545.0 C172.9,1546.9 187.2,1556.3 194.7,1556.3 C202.1,1556.3 206.4,1548.7 213.0,1545.0 C219.5,1541.2 228.2,1535.3 233.9,1533.7 C239.6,1532.1 241.7,1533.7 247.0,1535.6 C252.2,1537.5 258.8,1541.8 265.3,1545.0 C271.8,1548.1 279.2,1550.6 286.2,1554.4 C293.2,1558.1 300.6,1564.4 307.1,1567.5 C313.7,1570.7 318.0,1572.4 325.5,1573.2 C332.9,1574.0 342.9,1571.8 351.6,1572.4 C360.3,1573.1 369.9,1575.9 377.8,1576.9 C385.6,1578.0 391.3,1579.1 398.7,1578.8 C406.1,1578.5 414.8,1576.8 422.3,1575.1 C429.7,1573.4 439.7,1569.7 443.2,1568.7" fill="none" stroke="#8b4fa5" stroke-width="4.6" stroke-linecap="butt" stroke-linejoin="round"/>
<path d="M154.4,1442.5 L154.4,1605.7 L458.5,1605.7" fill="none" stroke="#000" stroke-width="3.4"/>
<line x1="147.4" y1="1599.5" x2="154.4" y2="1599.5" stroke="#333" stroke-width="2.6"/>
<text x="127.99" y="1607.80" font-size="24.00" font-weight="normal" fill="#4d4d4d">0</text>
<line x1="147.4" y1="1561.9" x2="154.4" y2="1561.9" stroke="#333" stroke-width="2.6"/>
<text x="128.22" y="1570.20" font-size="24.00" font-weight="normal" fill="#4d4d4d">1</text>
<line x1="147.4" y1="1524.3" x2="154.4" y2="1524.3" stroke="#333" stroke-width="2.6"/>
<text x="128.26" y="1532.60" font-size="24.00" font-weight="normal" fill="#4d4d4d">2</text>
<line x1="147.4" y1="1486.7" x2="154.4" y2="1486.7" stroke="#333" stroke-width="2.6"/>
<text x="128.11" y="1495.00" font-size="24.00" font-weight="normal" fill="#4d4d4d">3</text>
<line x1="147.4" y1="1449.1" x2="154.4" y2="1449.1" stroke="#333" stroke-width="2.6"/>
<text x="127.76" y="1457.40" font-size="24.00" font-weight="normal" fill="#4d4d4d">4</text>
<line x1="168.5" y1="1605.7" x2="168.5" y2="1612.7" stroke="#333" stroke-width="2.6"/>
<text x="151.82" y="1636.00" font-size="24.00" font-weight="normal" fill="#4d4d4d">0.0</text>
<line x1="233.9" y1="1605.7" x2="233.9" y2="1612.7" stroke="#333" stroke-width="2.6"/>
<text x="217.12" y="1636.00" font-size="24.00" font-weight="normal" fill="#4d4d4d">2.5</text>
<line x1="299.3" y1="1605.7" x2="299.3" y2="1612.7" stroke="#333" stroke-width="2.6"/>
<text x="282.61" y="1636.00" font-size="24.00" font-weight="normal" fill="#4d4d4d">5.0</text>
<line x1="364.7" y1="1605.7" x2="364.7" y2="1612.7" stroke="#333" stroke-width="2.6"/>
<text x="347.91" y="1636.00" font-size="24.00" font-weight="normal" fill="#4d4d4d">7.5</text>
<line x1="430.1" y1="1605.7" x2="430.1" y2="1612.7" stroke="#333" stroke-width="2.6"/>
<text x="406.30" y="1636.00" font-size="24.00" font-weight="normal" fill="#4d4d4d">10.0</text>
<text x="281.83" y="1421.00" font-size="36.00" font-weight="normal" fill="#000">Il7r</text>
<path d="M521.8,1597.8 C528.4,1597.8 551.1,1597.9 561.1,1597.8 C571.2,1597.7 575.5,1599.9 582.1,1597.1 C588.6,1594.2 594.8,1584.6 600.4,1581.0 C606.1,1577.4 609.6,1576.3 616.2,1575.4 C622.7,1574.4 632.3,1575.7 639.7,1575.4 C647.2,1575.0 654.2,1576.3 660.7,1573.5 C667.3,1570.7 672.9,1562.5 679.1,1558.5 C685.2,1554.6 690.9,1549.6 697.4,1549.9 C704.0,1550.2 714.9,1558.7 718.4,1560.4" fill="none" stroke="#2e8b57" stroke-width="4.6" stroke-linecap="butt" stroke-linejoin="round"/>
<path d="M521.8,1597.8 C537.5,1597.8 596.5,1599.4 616.2,1597.8 C635.8,1596.2 632.3,1592.2 639.7,1588.5 C647.2,1584.7 655.0,1581.9 660.7,1575.4 C666.4,1568.8 669.4,1557.9 673.8,1549.2 C678.2,1540.5 684.7,1527.4 686.9,1523.0" fill="none" stroke="#3a7dc0" stroke-width="4.6" stroke-linecap="butt" stroke-linejoin="round"/>
<path d="M521.8,1597.8 C530.5,1597.8 558.9,1597.8 574.2,1597.8 C589.5,1597.8 603.9,1600.9 613.5,1597.8 C623.1,1594.7 625.3,1586.6 631.9,1579.1 C638.4,1571.6 646.3,1560.7 652.8,1552.9 C659.4,1545.1 664.6,1537.6 671.2,1532.3 C677.7,1527.1 684.3,1522.7 692.2,1521.1 C700.0,1519.6 709.6,1525.2 718.4,1523.0 C727.1,1520.8 735.8,1512.5 744.6,1508.0 C753.3,1503.6 762.1,1498.9 770.8,1496.1 C779.5,1493.3 792.6,1492.0 797.0,1491.2" fill="none" stroke="#8b4fa5" stroke-width="4.6" stroke-linecap="butt" stroke-linejoin="round"/>
<path d="M507.7,1441.2 L507.7,1605.7 L812.4,1605.7" fill="none" stroke="#000" stroke-width="3.4"/>
<line x1="500.7" y1="1597.8" x2="507.7" y2="1597.8" stroke="#333" stroke-width="2.6"/>
<text x="481.29" y="1606.10" font-size="24.00" font-weight="normal" fill="#4d4d4d">0</text>
<line x1="500.7" y1="1560.4" x2="507.7" y2="1560.4" stroke="#333" stroke-width="2.6"/>
<text x="481.52" y="1568.70" font-size="24.00" font-weight="normal" fill="#4d4d4d">1</text>
<line x1="500.7" y1="1523.0" x2="507.7" y2="1523.0" stroke="#333" stroke-width="2.6"/>
<text x="481.56" y="1531.30" font-size="24.00" font-weight="normal" fill="#4d4d4d">2</text>
<line x1="500.7" y1="1485.6" x2="507.7" y2="1485.6" stroke="#333" stroke-width="2.6"/>
<text x="481.41" y="1493.90" font-size="24.00" font-weight="normal" fill="#4d4d4d">3</text>
<line x1="500.7" y1="1448.2" x2="507.7" y2="1448.2" stroke="#333" stroke-width="2.6"/>
<text x="481.06" y="1456.50" font-size="24.00" font-weight="normal" fill="#4d4d4d">4</text>
<line x1="521.8" y1="1605.7" x2="521.8" y2="1612.7" stroke="#333" stroke-width="2.6"/>
<text x="505.12" y="1634.00" font-size="24.00" font-weight="normal" fill="#4d4d4d">0.0</text>
<line x1="587.3" y1="1605.7" x2="587.3" y2="1612.7" stroke="#333" stroke-width="2.6"/>
<text x="570.54" y="1634.00" font-size="24.00" font-weight="normal" fill="#4d4d4d">2.5</text>
<line x1="652.8" y1="1605.7" x2="652.8" y2="1612.7" stroke="#333" stroke-width="2.6"/>
<text x="636.16" y="1634.00" font-size="24.00" font-weight="normal" fill="#4d4d4d">5.0</text>
<line x1="718.4" y1="1605.7" x2="718.4" y2="1612.7" stroke="#333" stroke-width="2.6"/>
<text x="701.58" y="1634.00" font-size="24.00" font-weight="normal" fill="#4d4d4d">7.5</text>
<line x1="783.9" y1="1605.7" x2="783.9" y2="1612.7" stroke="#333" stroke-width="2.6"/>
<text x="760.10" y="1634.00" font-size="24.00" font-weight="normal" fill="#4d4d4d">10.0</text>
<text x="613.39" y="1419.00" font-size="36.00" font-weight="normal" fill="#000">Gzmb</text>
<path d="M901.5,1597.2 C914.6,1597.2 952.5,1597.2 980.0,1597.2 C1007.4,1597.2 1051.9,1597.2 1066.2,1597.2" fill="none" stroke="#3a7dc0" stroke-width="4.6" stroke-linecap="butt" stroke-linejoin="round"/>
<path d="M901.5,1598.4 C910.2,1598.3 935.1,1598.2 953.8,1598.0 C972.5,1597.8 1000.9,1598.9 1013.9,1597.2 C1027.0,1595.5 1026.6,1593.2 1032.2,1587.9 C1037.9,1582.6 1042.7,1574.1 1047.9,1565.4 C1053.2,1556.7 1059.3,1543.5 1063.6,1535.4 C1068.0,1527.3 1071.0,1520.5 1074.1,1516.7 C1077.1,1513.0 1079.3,1512.0 1081.9,1513.0 C1084.5,1513.9 1087.2,1517.6 1089.8,1522.3 C1092.4,1527.0 1096.3,1537.9 1097.6,1541.1" fill="none" stroke="#2e8b57" stroke-width="4.6" stroke-linecap="butt" stroke-linejoin="round"/>
<path d="M901.5,1598.0 C910.2,1597.9 932.0,1597.5 953.8,1597.2 C975.6,1596.9 1010.5,1596.4 1032.2,1596.1 C1054.0,1595.8 1069.3,1595.8 1084.5,1595.4 C1099.8,1594.9 1112.9,1594.4 1123.8,1593.5 C1134.7,1592.5 1141.2,1591.0 1149.9,1589.7 C1158.6,1588.5 1171.7,1586.6 1176.1,1586.0" fill="none" stroke="#8b4fa5" stroke-width="4.6" stroke-linecap="butt" stroke-linejoin="round"/>
<path d="M886.9,1441.5 L886.9,1605.8 L1192.7,1605.8" fill="none" stroke="#000" stroke-width="3.4"/>
<line x1="879.9" y1="1599.1" x2="886.9" y2="1599.1" stroke="#333" stroke-width="2.6"/>
<text x="860.49" y="1607.40" font-size="24.00" font-weight="normal" fill="#4d4d4d">0</text>
<line x1="879.9" y1="1561.6" x2="886.9" y2="1561.6" stroke="#333" stroke-width="2.6"/>
<text x="860.72" y="1569.95" font-size="24.00" font-weight="normal" fill="#4d4d4d">1</text>
<line x1="879.9" y1="1524.2" x2="886.9" y2="1524.2" stroke="#333" stroke-width="2.6"/>
<text x="860.76" y="1532.50" font-size="24.00" font-weight="normal" fill="#4d4d4d">2</text>
<line x1="879.9" y1="1486.8" x2="886.9" y2="1486.8" stroke="#333" stroke-width="2.6"/>
<text x="860.61" y="1495.05" font-size="24.00" font-weight="normal" fill="#4d4d4d">3</text>
<line x1="879.9" y1="1449.3" x2="886.9" y2="1449.3" stroke="#333" stroke-width="2.6"/>
<text x="860.26" y="1457.60" font-size="24.00" font-weight="normal" fill="#4d4d4d">4</text>
<line x1="901.5" y1="1605.8" x2="901.5" y2="1612.8" stroke="#333" stroke-width="2.6"/>
<text x="884.82" y="1634.40" font-size="24.00" font-weight="normal" fill="#4d4d4d">0.0</text>
<line x1="966.9" y1="1605.8" x2="966.9" y2="1612.8" stroke="#333" stroke-width="2.6"/>
<text x="950.09" y="1634.40" font-size="24.00" font-weight="normal" fill="#4d4d4d">2.5</text>
<line x1="1032.2" y1="1605.8" x2="1032.2" y2="1612.8" stroke="#333" stroke-width="2.6"/>
<text x="1015.56" y="1634.40" font-size="24.00" font-weight="normal" fill="#4d4d4d">5.0</text>
<line x1="1097.6" y1="1605.8" x2="1097.6" y2="1612.8" stroke="#333" stroke-width="2.6"/>
<text x="1080.83" y="1634.40" font-size="24.00" font-weight="normal" fill="#4d4d4d">7.5</text>
<line x1="1163.0" y1="1605.8" x2="1163.0" y2="1612.8" stroke="#333" stroke-width="2.6"/>
<text x="1139.20" y="1634.40" font-size="24.00" font-weight="normal" fill="#4d4d4d">10.0</text>
<text x="988.36" y="1421.00" font-size="36.00" font-weight="normal" fill="#000">Top2a</text>
<path d="M1277.7,1583.8 C1280.7,1584.8 1289.4,1588.8 1295.9,1589.4 C1302.4,1590.1 1310.6,1588.7 1316.7,1587.6 C1322.8,1586.4 1327.6,1584.6 1332.3,1582.7 C1337.1,1580.9 1341.0,1577.1 1345.3,1576.4 C1349.7,1575.6 1354.0,1577.0 1358.3,1578.2 C1362.7,1579.5 1367.0,1586.0 1371.3,1583.8 C1375.7,1581.7 1380.0,1571.1 1384.3,1565.2 C1388.7,1559.3 1393.0,1551.5 1397.3,1548.4 C1401.7,1545.3 1406.0,1545.9 1410.4,1546.5 C1414.7,1547.1 1418.6,1549.6 1423.4,1552.1 C1428.1,1554.6 1432.9,1559.9 1439.0,1561.4 C1445.0,1563.0 1454.1,1561.8 1459.8,1561.4 C1465.4,1561.1 1470.6,1559.9 1472.8,1559.6" fill="none" stroke="#2e8b57" stroke-width="4.6" stroke-linecap="butt" stroke-linejoin="round"/>
<path d="M1277.7,1583.8 C1280.3,1584.8 1288.1,1588.6 1293.3,1589.4 C1298.5,1590.2 1302.8,1589.3 1308.9,1588.7 C1315.0,1588.1 1321.9,1586.8 1329.7,1585.7 C1337.5,1584.6 1348.8,1586.0 1355.7,1582.0 C1362.7,1577.9 1366.1,1568.3 1371.3,1561.4 C1376.5,1554.6 1381.7,1546.8 1386.9,1540.9 C1392.1,1535.0 1397.3,1531.0 1402.5,1526.0 C1407.8,1521.0 1413.4,1516.3 1418.2,1511.1 C1422.9,1505.8 1427.3,1501.4 1431.2,1494.3 C1435.1,1487.1 1439.8,1472.5 1441.6,1468.1" fill="none" stroke="#3a7dc0" stroke-width="4.6" stroke-linecap="butt" stroke-linejoin="round"/>
<path d="M1277.7,1587.6 C1282.0,1587.6 1295.0,1587.9 1303.7,1587.6 C1312.4,1587.3 1322.8,1586.3 1329.7,1585.7 C1336.7,1585.1 1338.8,1583.5 1345.3,1583.8 C1351.8,1584.1 1358.3,1586.9 1368.7,1587.6 C1379.1,1588.2 1396.9,1587.6 1407.8,1587.6 C1418.6,1587.6 1426.4,1588.2 1433.8,1587.6 C1441.1,1586.9 1445.9,1586.0 1452.0,1583.8 C1458.0,1581.7 1464.1,1577.0 1470.2,1574.5 C1476.2,1572.0 1481.4,1569.5 1488.4,1568.9 C1495.3,1568.3 1501.4,1569.8 1511.8,1570.8 C1522.2,1571.7 1544.3,1573.9 1550.8,1574.5" fill="none" stroke="#8b4fa5" stroke-width="4.6" stroke-linecap="butt" stroke-linejoin="round"/>
<path d="M1263.1,1441.1 L1263.1,1604.2 L1567.6,1604.2" fill="none" stroke="#000" stroke-width="3.4"/>
<line x1="1256.1" y1="1596.9" x2="1263.1" y2="1596.9" stroke="#333" stroke-width="2.6"/>
<text x="1236.69" y="1605.20" font-size="24.00" font-weight="normal" fill="#4d4d4d">0</text>
<line x1="1256.1" y1="1559.6" x2="1263.1" y2="1559.6" stroke="#333" stroke-width="2.6"/>
<text x="1236.92" y="1567.88" font-size="24.00" font-weight="normal" fill="#4d4d4d">1</text>
<line x1="1256.1" y1="1522.2" x2="1263.1" y2="1522.2" stroke="#333" stroke-width="2.6"/>
<text x="1236.96" y="1530.55" font-size="24.00" font-weight="normal" fill="#4d4d4d">2</text>
<line x1="1256.1" y1="1484.9" x2="1263.1" y2="1484.9" stroke="#333" stroke-width="2.6"/>
<text x="1236.81" y="1493.22" font-size="24.00" font-weight="normal" fill="#4d4d4d">3</text>
<line x1="1256.1" y1="1447.6" x2="1263.1" y2="1447.6" stroke="#333" stroke-width="2.6"/>
<text x="1236.46" y="1455.90" font-size="24.00" font-weight="normal" fill="#4d4d4d">4</text>
<line x1="1277.7" y1="1604.2" x2="1277.7" y2="1611.2" stroke="#333" stroke-width="2.6"/>
<text x="1261.02" y="1632.00" font-size="24.00" font-weight="normal" fill="#4d4d4d">0.0</text>
<line x1="1342.7" y1="1604.2" x2="1342.7" y2="1611.2" stroke="#333" stroke-width="2.6"/>
<text x="1325.94" y="1632.00" font-size="24.00" font-weight="normal" fill="#4d4d4d">2.5</text>
<line x1="1407.8" y1="1604.2" x2="1407.8" y2="1611.2" stroke="#333" stroke-width="2.6"/>
<text x="1391.06" y="1632.00" font-size="24.00" font-weight="normal" fill="#4d4d4d">5.0</text>
<line x1="1472.8" y1="1604.2" x2="1472.8" y2="1611.2" stroke="#333" stroke-width="2.6"/>
<text x="1455.98" y="1632.00" font-size="24.00" font-weight="normal" fill="#4d4d4d">7.5</text>
<line x1="1537.8" y1="1604.2" x2="1537.8" y2="1611.2" stroke="#333" stroke-width="2.6"/>
<text x="1514.00" y="1632.00" font-size="24.00" font-weight="normal" fill="#4d4d4d">10.0</text>
<text x="1371.51" y="1418.00" font-size="36.00" font-weight="normal" fill="#000">Isg15</text>
<path d="M1637.1,1594.0 C1650.0,1594.0 1688.6,1594.3 1714.3,1594.0 C1740.1,1593.7 1778.7,1592.5 1791.6,1592.2" fill="none" stroke="#3a7dc0" stroke-width="4.6" stroke-linecap="butt" stroke-linejoin="round"/>
<path d="M1637.1,1594.0 C1654.3,1594.0 1716.5,1594.3 1740.1,1594.0 C1763.7,1593.7 1769.7,1593.5 1778.7,1592.2 C1787.7,1590.8 1789.5,1587.6 1794.2,1585.9 C1798.9,1584.1 1802.8,1582.5 1807.0,1581.8 C1811.3,1581.1 1816.1,1581.1 1819.9,1581.8 C1823.8,1582.5 1828.5,1585.2 1830.2,1585.9" fill="none" stroke="#2e8b57" stroke-width="4.6" stroke-linecap="butt" stroke-linejoin="round"/>
<path d="M1637.1,1594.0 C1654.3,1594.0 1718.6,1594.2 1740.1,1594.0 C1761.6,1593.8 1759.0,1593.3 1765.8,1592.9 C1772.7,1592.5 1776.1,1592.3 1781.3,1591.8 C1786.5,1591.2 1791.6,1590.5 1796.8,1589.6 C1801.9,1588.6 1807.0,1586.7 1812.2,1585.9 C1817.3,1585.1 1822.9,1585.7 1827.6,1584.8 C1832.4,1583.8 1835.8,1583.0 1840.5,1579.9 C1845.2,1576.9 1850.8,1570.4 1856.0,1566.2 C1861.1,1562.1 1866.3,1558.0 1871.4,1555.2 C1876.6,1552.3 1880.9,1550.7 1886.9,1548.9 C1892.9,1547.0 1904.0,1544.9 1907.5,1544.0" fill="none" stroke="#8b4fa5" stroke-width="4.6" stroke-linecap="butt" stroke-linejoin="round"/>
<path d="M1623.7,1438.2 L1623.7,1600.9 L1923.6,1600.9" fill="none" stroke="#000" stroke-width="3.4"/>
<line x1="1616.7" y1="1594.0" x2="1623.7" y2="1594.0" stroke="#333" stroke-width="2.6"/>
<text x="1597.29" y="1602.30" font-size="24.00" font-weight="normal" fill="#4d4d4d">0</text>
<line x1="1616.7" y1="1557.0" x2="1623.7" y2="1557.0" stroke="#333" stroke-width="2.6"/>
<text x="1597.52" y="1565.30" font-size="24.00" font-weight="normal" fill="#4d4d4d">1</text>
<line x1="1616.7" y1="1520.0" x2="1623.7" y2="1520.0" stroke="#333" stroke-width="2.6"/>
<text x="1597.56" y="1528.30" font-size="24.00" font-weight="normal" fill="#4d4d4d">2</text>
<line x1="1616.7" y1="1483.0" x2="1623.7" y2="1483.0" stroke="#333" stroke-width="2.6"/>
<text x="1597.41" y="1491.30" font-size="24.00" font-weight="normal" fill="#4d4d4d">3</text>
<line x1="1616.7" y1="1446.0" x2="1623.7" y2="1446.0" stroke="#333" stroke-width="2.6"/>
<text x="1597.06" y="1454.30" font-size="24.00" font-weight="normal" fill="#4d4d4d">4</text>
<line x1="1637.1" y1="1600.9" x2="1637.1" y2="1607.9" stroke="#333" stroke-width="2.6"/>
<text x="1620.42" y="1629.30" font-size="24.00" font-weight="normal" fill="#4d4d4d">0.0</text>
<line x1="1701.5" y1="1600.9" x2="1701.5" y2="1607.9" stroke="#333" stroke-width="2.6"/>
<text x="1684.69" y="1629.30" font-size="24.00" font-weight="normal" fill="#4d4d4d">2.5</text>
<line x1="1765.8" y1="1600.9" x2="1765.8" y2="1607.9" stroke="#333" stroke-width="2.6"/>
<text x="1749.16" y="1629.30" font-size="24.00" font-weight="normal" fill="#4d4d4d">5.0</text>
<line x1="1830.2" y1="1600.9" x2="1830.2" y2="1607.9" stroke="#333" stroke-width="2.6"/>
<text x="1813.43" y="1629.30" font-size="24.00" font-weight="normal" fill="#4d4d4d">7.5</text>
<line x1="1894.6" y1="1600.9" x2="1894.6" y2="1607.9" stroke="#333" stroke-width="2.6"/>
<text x="1870.80" y="1629.30" font-size="24.00" font-weight="normal" fill="#4d4d4d">10.0</text>
<text x="1716.06" y="1417.40" font-size="36.00" font-weight="normal" fill="#000">Havcr2</text>
<circle cx="1586" cy="1584" r="1.3" fill="#333"/>
<circle cx="1567.5" cy="1604" r="1.3" fill="#333"/>
<text x="-2.38" y="1881.30" font-size="48.00" font-weight="bold" fill="#000">c</text>
<rect x="306.3" y="2395.1" width="60.3" height="29.5" fill="#8dd3c7" stroke="#111" stroke-width="3.3"/>
<rect x="366.6" y="2319.0" width="61.4" height="105.6" fill="#bebada" stroke="#111" stroke-width="3.3"/>
<rect x="440.0" y="2264.3" width="59.7" height="160.3" fill="#8dd3c7" stroke="#111" stroke-width="3.3"/>
<rect x="499.7" y="2298.3" width="60.7" height="126.3" fill="#bebada" stroke="#111" stroke-width="3.3"/>
<rect x="572.4" y="2276.2" width="60.4" height="148.4" fill="#8dd3c7" stroke="#111" stroke-width="3.3"/>
<rect x="632.8" y="2056.1" width="60.4" height="368.5" fill="#bebada" stroke="#111" stroke-width="3.3"/>
<rect x="288.5" y="1882.6" width="423.0" height="567.0" fill="none" stroke="#000" stroke-width="3.4"/>
<line x1="279.5" y1="2424.6" x2="288.5" y2="2424.6" stroke="#333" stroke-width="2.6"/>
<text x="251.43" y="2435.20" font-size="27.50" font-weight="bold" fill="#000">0</text>
<line x1="279.5" y1="2276.9" x2="288.5" y2="2276.9" stroke="#333" stroke-width="2.6"/>
<text x="236.14" y="2287.50" font-size="27.50" font-weight="bold" fill="#000">20</text>
<line x1="279.5" y1="2129.2" x2="288.5" y2="2129.2" stroke="#333" stroke-width="2.6"/>
<text x="236.14" y="2139.80" font-size="27.50" font-weight="bold" fill="#000">40</text>
<line x1="279.5" y1="1981.5" x2="288.5" y2="1981.5" stroke="#333" stroke-width="2.6"/>
<text x="236.14" y="1992.10" font-size="27.50" font-weight="bold" fill="#000">60</text>
<line x1="366.6" y1="2449.6" x2="366.6" y2="2459.6" stroke="#333" stroke-width="2.6"/>
<line x1="498.7" y1="2449.6" x2="498.7" y2="2459.6" stroke="#333" stroke-width="2.6"/>
<line x1="632" y1="2449.6" x2="632" y2="2459.6" stroke="#333" stroke-width="2.6"/>
<text x="313.57" y="2495.60" font-size="20.46" font-weight="bold" fill="#000">Trajectory 1</text>
<text x="446.57" y="2495.60" font-size="20.65" font-weight="bold" fill="#000">Trajectory 2</text>
<text x="583.07" y="2495.60" font-size="20.76" font-weight="bold" fill="#000">Trajectory 3</text>
<text x="0" y="0" transform="translate(187.00,2305.46) rotate(-90)" font-size="34.60" font-weight="normal" fill="#000">Cell percentage (%)</text>
<rect x="1237.0" y="2306.7" width="61.0" height="119.9" fill="#fb8072" stroke="#111" stroke-width="3.3"/>
<rect x="1298.0" y="2391.1" width="61.3" height="35.5" fill="#80b1d3" stroke="#111" stroke-width="3.3"/>
<rect x="1371.7" y="2230.5" width="60.3" height="196.1" fill="#fb8072" stroke="#111" stroke-width="3.3"/>
<rect x="1432.0" y="2358.5" width="60.2" height="68.1" fill="#80b1d3" stroke="#111" stroke-width="3.3"/>
<rect x="1505.4" y="2293.0" width="60.2" height="133.6" fill="#fb8072" stroke="#111" stroke-width="3.3"/>
<rect x="1565.6" y="1938.9" width="61.0" height="487.7" fill="#80b1d3" stroke="#111" stroke-width="3.3"/>
<rect x="1218.1" y="1882.6" width="428.5" height="569.2000000000003" fill="none" stroke="#000" stroke-width="3.4"/>
<line x1="1209.1" y1="2426.6" x2="1218.1" y2="2426.6" stroke="#333" stroke-width="2.6"/>
<text x="1181.33" y="2437.20" font-size="27.50" font-weight="bold" fill="#000">0</text>
<line x1="1209.1" y1="2278.6" x2="1218.1" y2="2278.6" stroke="#333" stroke-width="2.6"/>
<text x="1166.04" y="2289.20" font-size="27.50" font-weight="bold" fill="#000">20</text>
<line x1="1209.1" y1="2130.6" x2="1218.1" y2="2130.6" stroke="#333" stroke-width="2.6"/>
<text x="1166.04" y="2141.20" font-size="27.50" font-weight="bold" fill="#000">40</text>
<line x1="1209.1" y1="1982.6" x2="1218.1" y2="1982.6" stroke="#333" stroke-width="2.6"/>
<text x="1166.04" y="1993.20" font-size="27.50" font-weight="bold" fill="#000">60</text>
<line x1="1298" y1="2451.8" x2="1298" y2="2461.8" stroke="#333" stroke-width="2.6"/>
<line x1="1432" y1="2451.8" x2="1432" y2="2461.8" stroke="#333" stroke-width="2.6"/>
<line x1="1565.6" y1="2451.8" x2="1565.6" y2="2461.8" stroke="#333" stroke-width="2.6"/>
<text x="1244.97" y="2493.60" font-size="20.60" font-weight="bold" fill="#000">Trajectory 1</text>
<text x="1377.87" y="2493.60" font-size="20.58" font-weight="bold" fill="#000">Trajectory 2</text>
<text x="1515.37" y="2493.60" font-size="20.62" font-weight="bold" fill="#000">Trajectory 3</text>
<text x="0" y="0" transform="translate(1114.00,2306.06) rotate(-90)" font-size="34.60" font-weight="normal" fill="#000">Cell percentage (%)</text>
<rect x="766.9" y="2136.4" width="52.7" height="51.7" fill="#8dd3c7" stroke="#111" stroke-width="2.8"/>
<rect x="766.9" y="2191.9" width="52.7" height="52.1" fill="#bebada" stroke="#111" stroke-width="2.8"/>
<text x="835.63" y="2173.00" font-size="28.00" font-weight="bold" fill="#000">PBS</text>
<text x="832.86" y="2228.00" font-size="27.54" font-weight="bold" fill="#000">HPV mRNA-LNP</text>
<rect x="1699.6" y="2137.9" width="51.6" height="52.2" fill="#fb8072" stroke="#111" stroke-width="2.8"/>
<rect x="1699.6" y="2194.2" width="51.6" height="51.6" fill="#80b1d3" stroke="#111" stroke-width="2.8"/>
<text x="1767.59" y="2173.40" font-size="28.00" font-weight="bold" fill="#000">Spleen</text>
<text x="1767.29" y="2226.10" font-size="28.00" font-weight="bold" fill="#000">Tumor</text>
</svg>
</body></html>
